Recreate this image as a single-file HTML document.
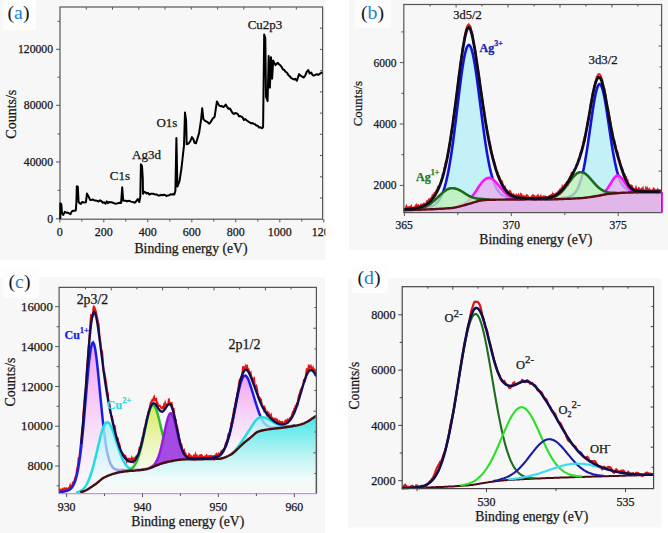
<!DOCTYPE html>
<html><head><meta charset="utf-8">
<style>
html,body{margin:0;padding:0;background:#fff;}
svg{display:block;}
text{font-family:"Liberation Serif",serif;fill:#161616;stroke:#161616;stroke-width:0.25px;}
</style></head>
<body>
<svg width="668" height="533" viewBox="0 0 668 533">
<g id="pa">
<rect x="0" y="0" width="325.5" height="260" fill="#f7f7f7"/>
<rect x="3" y="0" width="33" height="30" fill="#fdfdfd"/>
<rect x="60" y="7" width="262.6" height="212.2" fill="none" stroke="#555" stroke-width="1.2"/>
<path d="M56 49.3H60M56 105.3H60M56 162.0H60M56 218.8H60M57.5 21.3H60M57.5 77.2H60M57.5 134.0H60M57.5 190.3H60M59.8 219.2v3.2M103.8 219.2v3.2M147.8 219.2v3.2M191.8 219.2v3.2M235.8 219.2v3.2M279.8 219.2v3.2M323.8 219.2v3.2M81.8 219.2v2.4M125.8 219.2v2.4M169.8 219.2v2.4M213.8 219.2v2.4M257.8 219.2v2.4M301.8 219.2v2.4M86.3 7v2.6M322.6 28.2h-2.6M112.5 7v2.6M322.6 49.4h-2.6M138.8 7v2.6M322.6 70.7h-2.6M165.0 7v2.6M322.6 91.9h-2.6M191.3 7v2.6M322.6 113.1h-2.6M217.6 7v2.6M322.6 134.3h-2.6M243.8 7v2.6M322.6 155.5h-2.6M270.1 7v2.6M322.6 176.8h-2.6M296.3 7v2.6M322.6 198.0h-2.6" stroke="#555" stroke-width="1"/>
<g font-size="11.7" text-anchor="end"><text x="53" y="53.3">120000</text><text x="53" y="109.3">80000</text><text x="53" y="166">40000</text><text x="53" y="222.8">0</text></g>
<g font-size="12" text-anchor="middle"><text x="59.8" y="235.5">0</text><text x="103.8" y="235.5">200</text><text x="147.8" y="235.5">400</text><text x="191.8" y="235.5">600</text><text x="235.8" y="235.5">800</text><text x="279.8" y="235.5">1000</text><text x="323.8" y="235.5">1200</text></g>
<rect x="325.5" y="222" width="23.5" height="18" fill="#ffffff"/>
<text x="191" y="252.8" font-size="13.7" text-anchor="middle">Binding energy (eV)</text>
<text transform="translate(16.2,114.2) rotate(-90)" font-size="14" text-anchor="middle">Counts/s</text>
<text x="7.5" y="18.8" font-size="19.8" style="stroke-width:0">(<tspan style="fill:#1e7fd0;stroke:#1e7fd0">a</tspan>)</text>
<g font-size="13"><text x="109.8" y="179.5">C1s</text><text x="132" y="158.8">Ag3d</text><text x="156.4" y="126.8">O1s</text><text x="247.7" y="28.9">Cu2p3</text></g>
<path fill="none" stroke="#000" stroke-width="2" stroke-linejoin="round" d="M60.3 219.0 L60.3 203.4 L61.3 204.1 L62.0 213.3 L63.2 215.0 L64.8 211.9 L66.2 212.7 L67.7 212.6 L69.1 213.3 L70.5 214.1 L71.9 211.4 L73.3 210.7 L74.5 210.7 L75.8 210.5 L76.4 202.0 L76.8 186.3 L77.8 186.6 L78.6 202.0 L79.6 203.1 L80.9 204.0 L82.1 202.1 L83.4 202.2 L84.6 202.6 L85.9 202.3 L87.0 193.6 L88.5 196.4 L90.1 199.9 L91.5 199.9 L92.9 199.5 L94.4 200.4 L95.8 200.4 L97.2 200.9 L98.6 201.6 L100.0 200.3 L101.4 201.2 L102.8 202.8 L104.2 202.3 L105.4 203.7 L106.7 201.4 L107.9 203.1 L109.1 202.0 L110.3 202.2 L111.5 202.3 L112.8 202.7 L114.0 203.1 L115.4 203.8 L116.8 203.6 L118.3 203.1 L119.7 202.8 L121.1 203.1 L122.2 187.3 L123.2 200.6 L124.4 200.7 L125.7 200.7 L126.9 201.4 L128.1 200.9 L129.5 200.8 L130.9 201.6 L132.2 201.9 L133.6 202.3 L135.0 202.7 L136.4 201.0 L137.8 199.0 L139.3 202.0 L140.3 196.9 L140.9 164.3 L142.0 166.0 L142.8 178.4 L143.0 193.8 L144.0 191.8 L145.3 192.3 L146.6 193.5 L148.0 192.9 L149.3 194.5 L150.6 193.8 L151.9 193.7 L153.2 193.7 L154.5 194.2 L155.8 194.5 L157.0 194.6 L158.3 195.5 L159.6 195.5 L160.9 194.8 L162.3 195.2 L163.7 194.7 L165.1 195.0 L166.4 196.1 L167.8 195.4 L169.2 195.3 L170.5 194.2 L171.8 194.4 L173.0 194.2 L174.3 194.4 L175.4 190.7 L176.4 138.1 L177.4 186.6 L179.5 181.4 L181.5 168.0 L184.0 145.4 L185.0 112.4 L186.1 120.6 L186.7 144.3 L188.8 143.3 L190.4 141.0 L191.9 137.1 L193.3 139.1 L194.6 142.8 L196.0 143.3 L199.1 133.0 L201.1 119.6 L202.2 108.2 L203.4 119.1 L204.8 120.7 L206.2 121.4 L207.6 122.2 L209.0 123.6 L210.4 122.6 L211.8 120.1 L213.2 118.0 L214.6 116.9 L216.9 101.6 L219.2 105.6 L220.5 106.2 L221.8 106.0 L223.1 107.0 L224.4 106.3 L225.7 104.6 L227.0 106.8 L228.5 108.9 L230.0 108.5 L231.5 111.3 L232.7 113.1 L234.0 114.0 L235.2 113.1 L236.4 113.3 L237.7 113.9 L238.9 116.2 L240.2 116.1 L241.4 116.6 L242.6 117.5 L243.9 119.9 L245.1 119.1 L246.3 120.1 L247.6 121.0 L248.8 121.8 L250.1 122.7 L251.3 123.4 L252.6 122.9 L253.8 123.9 L255.1 124.3 L256.3 125.5 L257.7 125.7 L259.1 127.6 L260.6 127.2 L262.0 128.2 L263.1 127.0 L264.2 34.6 L265.3 38.0 L266.0 96.6 L267.6 101.1 L268.7 56.0 L269.9 87.6 L271.0 57.2 L272.1 78.6 L273.2 60.6 L275.5 65.1 L277.7 62.8 L279.0 64.2 L280.3 65.3 L281.6 66.9 L283.0 69.4 L284.3 70.0 L285.6 71.8 L287.0 72.8 L288.3 74.9 L289.7 76.2 L291.0 77.8 L292.4 78.6 L293.9 79.5 L295.4 78.8 L296.9 80.8 L299.1 74.1 L300.6 75.7 L302.2 76.7 L303.7 77.5 L305.2 75.7 L306.7 71.9 L308.2 70.0 L309.7 73.5 L311.2 72.6 L312.7 75.2 L314.0 75.5 L315.4 74.8 L316.7 74.2 L318.1 74.9 L319.4 74.1 L320.9 73.0 L322.5 72.3"/>
</g>
<g id="pb">
<rect x="349" y="0" width="319" height="250" fill="#f7f7f7"/>
<rect x="355" y="0" width="36" height="27.5" fill="#fdfdfd"/>
<path d="M403.8 210.2 L404.8 210.2 L405.8 210.2 L406.8 210.1 L407.8 210.1 L408.8 210.1 L409.8 210.1 L410.8 210.0 L411.8 210.0 L412.8 210.0 L413.8 209.9 L414.8 209.9 L415.8 209.9 L416.8 209.8 L417.8 209.8 L418.8 209.8 L419.8 209.7 L420.8 209.7 L421.8 209.6 L422.8 209.6 L423.8 209.6 L424.8 209.5 L425.8 209.5 L426.8 209.4 L427.8 209.4 L428.8 209.4 L429.8 209.3 L430.8 209.3 L431.8 209.2 L432.8 209.2 L433.8 209.1 L434.8 209.1 L435.8 209.0 L436.8 209.0 L437.8 208.9 L438.8 208.9 L439.8 208.8 L440.8 208.8 L441.8 208.7 L442.8 208.7 L443.8 208.6 L444.8 208.5 L445.8 208.5 L446.8 208.4 L447.8 208.3 L448.8 208.2 L449.8 208.2 L450.8 208.1 L451.8 208.0 L452.8 207.9 L453.8 207.7 L454.8 207.5 L455.8 207.4 L456.8 207.1 L457.8 206.9 L458.8 206.6 L459.8 206.4 L460.8 206.1 L461.8 205.8 L462.8 205.6 L463.8 205.3 L464.8 205.0 L465.8 204.8 L466.8 204.5 L467.8 204.2 L468.8 203.9 L469.8 203.6 L470.8 203.3 L471.8 203.0 L472.8 202.7 L473.8 202.4 L474.8 202.1 L475.8 201.7 L476.8 201.5 L477.8 201.2 L478.8 200.9 L479.8 200.7 L480.8 200.5 L481.8 200.3 L482.8 200.2 L483.8 200.1 L484.8 200.0 L485.8 200.0 L486.8 199.9 L487.8 199.9 L488.8 199.8 L489.8 199.8 L490.8 199.8 L491.8 199.7 L492.8 199.7 L493.8 199.7 L494.8 199.7 L495.8 199.7 L496.8 199.6 L497.8 199.6 L498.8 199.6 L499.8 199.6 L500.8 199.6 L501.8 199.6 L502.8 199.6 L503.8 199.6 L504.8 199.6 L505.8 199.5 L506.8 199.5 L507.8 199.5 L508.8 199.5 L509.8 199.5 L510.8 199.5 L511.8 199.5 L512.8 199.5 L513.8 199.5 L514.8 199.5 L515.8 199.5 L516.8 199.5 L517.8 199.5 L518.8 199.5 L519.8 199.5 L520.8 199.5 L521.8 199.5 L522.8 199.5 L523.8 199.5 L524.8 199.5 L525.8 199.4 L526.8 199.4 L527.8 199.4 L528.8 199.4 L529.8 199.4 L530.8 199.4 L531.8 199.4 L532.8 199.4 L533.8 199.4 L534.8 199.4 L535.8 199.4 L536.8 199.4 L537.8 199.4 L538.8 199.4 L539.8 199.4 L540.8 199.4 L541.8 199.4 L542.8 199.4 L543.8 199.4 L544.8 199.3 L545.8 199.3 L546.8 199.3 L547.8 199.3 L548.8 199.3 L549.8 199.3 L550.8 199.3 L551.8 199.3 L552.8 199.3 L553.8 199.2 L554.8 199.2 L555.8 199.2 L556.8 199.2 L557.8 199.2 L558.8 199.1 L559.8 199.1 L560.8 199.1 L561.8 199.0 L562.8 199.0 L563.8 199.0 L564.8 198.9 L565.8 198.9 L566.8 198.9 L567.8 198.8 L568.8 198.8 L569.8 198.7 L570.8 198.7 L571.8 198.6 L572.8 198.6 L573.8 198.5 L574.8 198.5 L575.8 198.4 L576.8 198.4 L577.8 198.3 L578.8 198.3 L579.8 198.2 L580.8 198.1 L581.8 198.1 L582.8 198.0 L583.8 197.9 L584.8 197.8 L585.8 197.7 L586.8 197.5 L587.8 197.4 L588.8 197.3 L589.8 197.1 L590.8 197.0 L591.8 196.8 L592.8 196.7 L593.8 196.5 L594.8 196.3 L595.8 196.2 L596.8 196.0 L597.8 195.9 L598.8 195.7 L599.8 195.5 L600.8 195.3 L601.8 195.1 L602.8 194.9 L603.8 194.7 L604.8 194.5 L605.8 194.3 L606.8 194.1 L607.8 194.0 L608.8 193.9 L609.8 193.8 L610.8 193.7 L611.8 193.6 L612.8 193.5 L613.8 193.4 L614.8 193.3 L615.8 193.3 L616.8 193.2 L617.8 193.1 L618.8 193.0 L619.8 193.0 L620.8 192.9 L621.8 192.8 L622.8 192.8 L623.8 192.7 L624.8 192.7 L625.8 192.6 L626.8 192.6 L627.8 192.6 L628.8 192.5 L629.8 192.5 L630.8 192.5 L631.8 192.5 L632.8 192.5 L633.8 192.4 L634.8 192.4 L635.8 192.4 L636.8 192.4 L637.8 192.4 L638.8 192.4 L639.8 192.3 L640.8 192.3 L641.8 192.3 L642.8 192.3 L643.8 192.3 L644.8 192.3 L645.8 192.3 L646.8 192.3 L647.8 192.3 L648.8 192.3 L649.8 192.2 L650.8 192.2 L651.8 192.2 L652.8 192.2 L653.8 192.2 L654.8 192.2 L655.8 192.2 L656.8 192.2 L657.8 192.2 L658.8 192.2 L659.8 192.2 L660.8 192.2 L660.8 212.6 L659.8 212.6 L658.8 212.6 L657.8 212.6 L656.8 212.6 L655.8 212.6 L654.8 212.6 L653.8 212.6 L652.8 212.6 L651.8 212.6 L650.8 212.6 L649.8 212.6 L648.8 212.6 L647.8 212.6 L646.8 212.6 L645.8 212.6 L644.8 212.6 L643.8 212.6 L642.8 212.6 L641.8 212.6 L640.8 212.6 L639.8 212.6 L638.8 212.6 L637.8 212.6 L636.8 212.6 L635.8 212.6 L634.8 212.6 L633.8 212.6 L632.8 212.6 L631.8 212.6 L630.8 212.6 L629.8 212.6 L628.8 212.6 L627.8 212.6 L626.8 212.6 L625.8 212.6 L624.8 212.6 L623.8 212.6 L622.8 212.6 L621.8 212.6 L620.8 212.6 L619.8 212.6 L618.8 212.6 L617.8 212.6 L616.8 212.6 L615.8 212.6 L614.8 212.6 L613.8 212.6 L612.8 212.6 L611.8 212.6 L610.8 212.6 L609.8 212.6 L608.8 212.6 L607.8 212.6 L606.8 212.6 L605.8 212.6 L604.8 212.6 L603.8 212.6 L602.8 212.6 L601.8 212.6 L600.8 212.6 L599.8 212.6 L598.8 212.6 L597.8 212.6 L596.8 212.6 L595.8 212.6 L594.8 212.6 L593.8 212.6 L592.8 212.6 L591.8 212.6 L590.8 212.6 L589.8 212.6 L588.8 212.6 L587.8 212.6 L586.8 212.6 L585.8 212.6 L584.8 212.6 L583.8 212.6 L582.8 212.6 L581.8 212.6 L580.8 212.6 L579.8 212.6 L578.8 212.6 L577.8 212.6 L576.8 212.6 L575.8 212.6 L574.8 212.6 L573.8 212.6 L572.8 212.6 L571.8 212.6 L570.8 212.6 L569.8 212.6 L568.8 212.6 L567.8 212.6 L566.8 212.6 L565.8 212.6 L564.8 212.6 L563.8 212.6 L562.8 212.6 L561.8 212.6 L560.8 212.6 L559.8 212.6 L558.8 212.6 L557.8 212.6 L556.8 212.6 L555.8 212.6 L554.8 212.6 L553.8 212.6 L552.8 212.6 L551.8 212.6 L550.8 212.6 L549.8 212.6 L548.8 212.6 L547.8 212.6 L546.8 212.6 L545.8 212.6 L544.8 212.6 L543.8 212.6 L542.8 212.6 L541.8 212.6 L540.8 212.6 L539.8 212.6 L538.8 212.6 L537.8 212.6 L536.8 212.6 L535.8 212.6 L534.8 212.6 L533.8 212.6 L532.8 212.6 L531.8 212.6 L530.8 212.6 L529.8 212.6 L528.8 212.6 L527.8 212.6 L526.8 212.6 L525.8 212.6 L524.8 212.6 L523.8 212.6 L522.8 212.6 L521.8 212.6 L520.8 212.6 L519.8 212.6 L518.8 212.6 L517.8 212.6 L516.8 212.6 L515.8 212.6 L514.8 212.6 L513.8 212.6 L512.8 212.6 L511.8 212.6 L510.8 212.6 L509.8 212.6 L508.8 212.6 L507.8 212.6 L506.8 212.6 L505.8 212.6 L504.8 212.6 L503.8 212.6 L502.8 212.6 L501.8 212.6 L500.8 212.6 L499.8 212.6 L498.8 212.6 L497.8 212.6 L496.8 212.6 L495.8 212.6 L494.8 212.6 L493.8 212.6 L492.8 212.6 L491.8 212.6 L490.8 212.6 L489.8 212.6 L488.8 212.6 L487.8 212.6 L486.8 212.6 L485.8 212.6 L484.8 212.6 L483.8 212.6 L482.8 212.6 L481.8 212.6 L480.8 212.6 L479.8 212.6 L478.8 212.6 L477.8 212.6 L476.8 212.6 L475.8 212.6 L474.8 212.6 L473.8 212.6 L472.8 212.6 L471.8 212.6 L470.8 212.6 L469.8 212.6 L468.8 212.6 L467.8 212.6 L466.8 212.6 L465.8 212.6 L464.8 212.6 L463.8 212.6 L462.8 212.6 L461.8 212.6 L460.8 212.6 L459.8 212.6 L458.8 212.6 L457.8 212.6 L456.8 212.6 L455.8 212.6 L454.8 212.6 L453.8 212.6 L452.8 212.6 L451.8 212.6 L450.8 212.6 L449.8 212.6 L448.8 212.6 L447.8 212.6 L446.8 212.6 L445.8 212.6 L444.8 212.6 L443.8 212.6 L442.8 212.6 L441.8 212.6 L440.8 212.6 L439.8 212.6 L438.8 212.6 L437.8 212.6 L436.8 212.6 L435.8 212.6 L434.8 212.6 L433.8 212.6 L432.8 212.6 L431.8 212.6 L430.8 212.6 L429.8 212.6 L428.8 212.6 L427.8 212.6 L426.8 212.6 L425.8 212.6 L424.8 212.6 L423.8 212.6 L422.8 212.6 L421.8 212.6 L420.8 212.6 L419.8 212.6 L418.8 212.6 L417.8 212.6 L416.8 212.6 L415.8 212.6 L414.8 212.6 L413.8 212.6 L412.8 212.6 L411.8 212.6 L410.8 212.6 L409.8 212.6 L408.8 212.6 L407.8 212.6 L406.8 212.6 L405.8 212.6 L404.8 212.6 L403.8 212.6 Z" fill="#e3b6ea"/>
<path d="M403.8 209.5 L404.8 209.5 L405.8 209.4 L406.8 209.4 L407.8 209.3 L408.8 209.3 L409.8 209.2 L410.8 209.2 L411.8 209.1 L412.8 209.1 L413.8 209.0 L414.8 208.9 L415.8 208.9 L416.8 208.8 L417.8 208.7 L418.8 208.6 L419.8 208.5 L420.8 208.4 L421.8 208.3 L422.8 208.2 L423.8 208.1 L424.8 208.0 L425.8 207.8 L426.8 207.7 L427.8 207.5 L428.8 207.2 L429.8 207.0 L430.8 206.6 L431.8 206.3 L432.8 205.8 L433.8 205.3 L434.8 204.7 L435.8 203.9 L436.8 203.0 L437.8 201.9 L438.8 200.6 L439.8 199.1 L440.8 197.2 L441.8 195.1 L442.8 192.7 L443.8 189.9 L444.8 186.6 L445.8 183.0 L446.8 178.8 L447.8 174.2 L448.8 169.1 L449.8 163.4 L450.8 157.3 L451.8 150.7 L452.8 143.7 L453.8 136.2 L454.8 128.4 L455.8 120.4 L456.8 112.1 L457.8 103.8 L458.8 95.5 L459.8 87.4 L460.8 79.6 L461.8 72.3 L462.8 65.6 L463.8 59.6 L464.8 54.6 L465.8 50.5 L466.8 47.5 L467.8 45.6 L468.8 45.0 L469.8 45.5 L470.8 47.2 L471.8 50.1 L472.8 54.0 L473.8 58.9 L474.8 64.5 L475.8 70.9 L476.8 77.9 L477.8 85.3 L478.8 93.0 L479.8 100.8 L480.8 108.7 L481.8 116.5 L482.8 124.2 L483.8 131.6 L484.8 138.7 L485.8 145.4 L486.8 151.7 L487.8 157.4 L488.8 162.7 L489.8 167.6 L490.8 171.9 L491.8 175.7 L492.8 179.1 L493.8 182.1 L494.8 184.7 L495.8 186.9 L496.8 188.8 L497.8 190.5 L498.8 191.8 L499.8 193.0 L500.8 193.9 L501.8 194.7 L502.8 195.4 L503.8 195.9 L504.8 196.4 L505.8 196.7 L506.8 197.0 L507.8 197.3 L508.8 197.5 L509.8 197.6 L510.8 197.8 L511.8 197.9 L512.8 198.0 L513.8 198.1 L514.8 198.1 L515.8 198.2 L516.8 198.3 L517.8 198.3 L518.8 198.3 L519.8 198.4 L520.8 198.4 L521.8 198.5 L522.8 198.5 L523.8 198.5 L524.8 198.6 L525.8 198.6 L526.8 198.6 L527.8 198.6 L528.8 198.6 L529.8 198.7 L530.8 198.7 L531.8 198.7 L532.8 198.7 L533.8 198.7 L534.8 198.8 L535.8 198.8 L536.8 198.8 L537.8 198.8 L538.8 198.8 L539.8 198.8 L540.8 198.8 L541.8 198.8 L542.8 198.8 L543.8 198.8 L544.8 198.8 L545.8 198.9 L546.8 198.9 L547.8 198.9 L548.8 198.9 L549.8 198.9 L550.8 198.9 L551.8 198.9 L552.8 198.8 L553.8 198.8 L554.8 198.8 L555.8 198.8 L556.8 198.8 L557.8 198.8 L558.8 198.8 L559.8 198.8 L560.8 198.7 L561.8 198.7 L562.8 198.7 L563.8 198.7 L564.8 198.6 L565.8 198.6 L566.8 198.6 L567.8 198.5 L567.8 198.8 L566.8 198.9 L565.8 198.9 L564.8 198.9 L563.8 199.0 L562.8 199.0 L561.8 199.0 L560.8 199.1 L559.8 199.1 L558.8 199.1 L557.8 199.2 L556.8 199.2 L555.8 199.2 L554.8 199.2 L553.8 199.2 L552.8 199.3 L551.8 199.3 L550.8 199.3 L549.8 199.3 L548.8 199.3 L547.8 199.3 L546.8 199.3 L545.8 199.3 L544.8 199.3 L543.8 199.4 L542.8 199.4 L541.8 199.4 L540.8 199.4 L539.8 199.4 L538.8 199.4 L537.8 199.4 L536.8 199.4 L535.8 199.4 L534.8 199.4 L533.8 199.4 L532.8 199.4 L531.8 199.4 L530.8 199.4 L529.8 199.4 L528.8 199.4 L527.8 199.4 L526.8 199.4 L525.8 199.4 L524.8 199.5 L523.8 199.5 L522.8 199.5 L521.8 199.5 L520.8 199.5 L519.8 199.5 L518.8 199.5 L517.8 199.5 L516.8 199.5 L515.8 199.5 L514.8 199.5 L513.8 199.5 L512.8 199.5 L511.8 199.5 L510.8 199.5 L509.8 199.5 L508.8 199.5 L507.8 199.5 L506.8 199.5 L505.8 199.5 L504.8 199.6 L503.8 199.6 L502.8 199.6 L501.8 199.6 L500.8 199.6 L499.8 199.6 L498.8 199.6 L497.8 199.6 L496.8 199.6 L495.8 199.7 L494.8 199.7 L493.8 199.7 L492.8 199.7 L491.8 199.7 L490.8 199.8 L489.8 199.8 L488.8 199.8 L487.8 199.9 L486.8 199.9 L485.8 200.0 L484.8 200.0 L483.8 200.1 L482.8 200.2 L481.8 200.3 L480.8 200.5 L479.8 200.7 L478.8 200.9 L477.8 201.2 L476.8 201.5 L475.8 201.7 L474.8 202.1 L473.8 202.4 L472.8 202.7 L471.8 203.0 L470.8 203.3 L469.8 203.6 L468.8 203.9 L467.8 204.2 L466.8 204.5 L465.8 204.8 L464.8 205.0 L463.8 205.3 L462.8 205.6 L461.8 205.8 L460.8 206.1 L459.8 206.4 L458.8 206.6 L457.8 206.9 L456.8 207.1 L455.8 207.4 L454.8 207.5 L453.8 207.7 L452.8 207.9 L451.8 208.0 L450.8 208.1 L449.8 208.2 L448.8 208.2 L447.8 208.3 L446.8 208.4 L445.8 208.5 L444.8 208.5 L443.8 208.6 L442.8 208.7 L441.8 208.7 L440.8 208.8 L439.8 208.8 L438.8 208.9 L437.8 208.9 L436.8 209.0 L435.8 209.0 L434.8 209.1 L433.8 209.1 L432.8 209.2 L431.8 209.2 L430.8 209.3 L429.8 209.3 L428.8 209.4 L427.8 209.4 L426.8 209.4 L425.8 209.5 L424.8 209.5 L423.8 209.6 L422.8 209.6 L421.8 209.6 L420.8 209.7 L419.8 209.7 L418.8 209.8 L417.8 209.8 L416.8 209.8 L415.8 209.9 L414.8 209.9 L413.8 209.9 L412.8 210.0 L411.8 210.0 L410.8 210.0 L409.8 210.1 L408.8 210.1 L407.8 210.1 L406.8 210.1 L405.8 210.2 L404.8 210.2 L403.8 210.2 Z" fill="#b4f0f8" fill-opacity="0.8"/>
<path d="M403.8 209.5 L404.8 209.5 L405.8 209.4 L406.8 209.4 L407.8 209.3 L408.8 209.3 L409.8 209.2 L410.8 209.2 L411.8 209.1 L412.8 209.1 L413.8 209.0 L414.8 208.9 L415.8 208.9 L416.8 208.8 L417.8 208.7 L418.8 208.6 L419.8 208.5 L420.8 208.4 L421.8 208.3 L422.8 208.2 L423.8 208.1 L424.8 208.0 L425.8 207.8 L426.8 207.7 L427.8 207.5 L428.8 207.2 L429.8 207.0 L430.8 206.6 L431.8 206.3 L432.8 205.8 L433.8 205.3 L434.8 204.7 L435.8 203.9 L436.8 203.0 L437.8 201.9 L438.8 200.6 L439.8 199.1 L440.8 197.2 L441.8 195.1 L442.8 192.7 L443.8 189.9 L444.8 186.6 L445.8 183.0 L446.8 178.8 L447.8 174.2 L448.8 169.1 L449.8 163.4 L450.8 157.3 L451.8 150.7 L452.8 143.7 L453.8 136.2 L454.8 128.4 L455.8 120.4 L456.8 112.1 L457.8 103.8 L458.8 95.5 L459.8 87.4 L460.8 79.6 L461.8 72.3 L462.8 65.6 L463.8 59.6 L464.8 54.6 L465.8 50.5 L466.8 47.5 L467.8 45.6 L468.8 45.0 L469.8 45.5 L470.8 47.2 L471.8 50.1 L472.8 54.0 L473.8 58.9 L474.8 64.5 L475.8 70.9 L476.8 77.9 L477.8 85.3 L478.8 93.0 L479.8 100.8 L480.8 108.7 L481.8 116.5 L482.8 124.2 L483.8 131.6 L484.8 138.7 L485.8 145.4 L486.8 151.7 L487.8 157.4 L488.8 162.7 L489.8 167.6 L490.8 171.9 L491.8 175.7 L492.8 179.1 L493.8 182.1 L494.8 184.7 L495.8 186.9 L496.8 188.8 L497.8 190.5 L498.8 191.8 L499.8 193.0 L500.8 193.9 L501.8 194.7 L502.8 195.4 L503.8 195.9 L504.8 196.4 L505.8 196.7 L506.8 197.0 L507.8 197.3 L508.8 197.5 L509.8 197.6 L510.8 197.8 L511.8 197.9 L512.8 198.0 L513.8 198.1 L514.8 198.1 L515.8 198.2 L516.8 198.3 L517.8 198.3 L518.8 198.3 L519.8 198.4 L520.8 198.4 L521.8 198.5 L522.8 198.5 L523.8 198.5 L524.8 198.6 L525.8 198.6 L526.8 198.6 L527.8 198.6 L528.8 198.6 L529.8 198.7 L530.8 198.7 L531.8 198.7 L532.8 198.7 L533.8 198.7 L534.8 198.8 L535.8 198.8 L536.8 198.8 L537.8 198.8 L538.8 198.8 L539.8 198.8 L540.8 198.8 L541.8 198.8 L542.8 198.8 L543.8 198.8 L544.8 198.8 L545.8 198.9 L546.8 198.9 L547.8 198.9 L548.8 198.9 L549.8 198.9 L550.8 198.9 L551.8 198.9 L552.8 198.8 L553.8 198.8 L554.8 198.8 L555.8 198.8 L556.8 198.8 L557.8 198.8 L558.8 198.8 L559.8 198.8 L560.8 198.7 L561.8 198.7 L562.8 198.7 L563.8 198.7 L564.8 198.6 L565.8 198.6 L566.8 198.6 L567.8 198.5" fill="none" stroke="#1212d8" stroke-width="2.6"/>
<path d="M531.8 199.1 L532.8 199.1 L533.8 199.1 L534.8 199.1 L535.8 199.1 L536.8 199.1 L537.8 199.0 L538.8 199.0 L539.8 199.0 L540.8 199.0 L541.8 199.0 L542.8 198.9 L543.8 198.9 L544.8 198.9 L545.8 198.9 L546.8 198.8 L547.8 198.8 L548.8 198.8 L549.8 198.8 L550.8 198.7 L551.8 198.7 L552.8 198.6 L553.8 198.6 L554.8 198.6 L555.8 198.5 L556.8 198.5 L557.8 198.4 L558.8 198.3 L559.8 198.3 L560.8 198.2 L561.8 198.1 L562.8 198.0 L563.8 197.9 L564.8 197.7 L565.8 197.6 L566.8 197.4 L567.8 197.2 L568.8 196.9 L569.8 196.5 L570.8 196.1 L571.8 195.6 L572.8 194.9 L573.8 194.1 L574.8 193.0 L575.8 191.8 L576.8 190.2 L577.8 188.4 L578.8 186.1 L579.8 183.5 L580.8 180.4 L581.8 176.8 L582.8 172.7 L583.8 168.1 L584.8 162.9 L585.8 157.3 L586.8 151.1 L587.8 144.6 L588.8 137.8 L589.8 130.8 L590.8 123.7 L591.8 116.7 L592.8 109.9 L593.8 103.6 L594.8 97.9 L595.8 93.0 L596.8 89.1 L597.8 86.2 L598.8 84.5 L599.8 84.1 L600.8 84.9 L601.8 86.9 L602.8 90.1 L603.8 94.3 L604.8 99.3 L605.8 105.1 L606.8 111.4 L607.8 118.0 L608.8 124.8 L609.8 131.6 L610.8 138.3 L611.8 144.7 L612.8 150.8 L613.8 156.4 L614.8 161.6 L615.8 166.2 L616.8 170.4 L617.8 174.0 L618.8 177.1 L619.8 179.8 L620.8 182.1 L621.8 184.0 L622.8 185.5 L623.8 186.8 L624.8 187.8 L625.8 188.6 L626.8 189.3 L627.8 189.8 L628.8 190.2 L629.8 190.5 L630.8 190.7 L631.8 190.9 L632.8 191.1 L633.8 191.2 L634.8 191.3 L635.8 191.4 L636.8 191.4 L637.8 191.5 L638.8 191.5 L639.8 191.5 L640.8 191.6 L641.8 191.6 L642.8 191.6 L643.8 191.6 L644.8 191.6 L645.8 191.7 L646.8 191.7 L647.8 191.7 L648.8 191.7 L649.8 191.7 L650.8 191.7 L651.8 191.7 L652.8 191.8 L653.8 191.8 L654.8 191.8 L655.8 191.8 L656.8 191.8 L657.8 191.8 L658.8 191.8 L659.8 191.8 L660.8 191.8 L660.8 192.2 L659.8 192.2 L658.8 192.2 L657.8 192.2 L656.8 192.2 L655.8 192.2 L654.8 192.2 L653.8 192.2 L652.8 192.2 L651.8 192.2 L650.8 192.2 L649.8 192.2 L648.8 192.3 L647.8 192.3 L646.8 192.3 L645.8 192.3 L644.8 192.3 L643.8 192.3 L642.8 192.3 L641.8 192.3 L640.8 192.3 L639.8 192.3 L638.8 192.4 L637.8 192.4 L636.8 192.4 L635.8 192.4 L634.8 192.4 L633.8 192.4 L632.8 192.5 L631.8 192.5 L630.8 192.5 L629.8 192.5 L628.8 192.5 L627.8 192.6 L626.8 192.6 L625.8 192.6 L624.8 192.7 L623.8 192.7 L622.8 192.8 L621.8 192.8 L620.8 192.9 L619.8 193.0 L618.8 193.0 L617.8 193.1 L616.8 193.2 L615.8 193.3 L614.8 193.3 L613.8 193.4 L612.8 193.5 L611.8 193.6 L610.8 193.7 L609.8 193.8 L608.8 193.9 L607.8 194.0 L606.8 194.1 L605.8 194.3 L604.8 194.5 L603.8 194.7 L602.8 194.9 L601.8 195.1 L600.8 195.3 L599.8 195.5 L598.8 195.7 L597.8 195.9 L596.8 196.0 L595.8 196.2 L594.8 196.3 L593.8 196.5 L592.8 196.7 L591.8 196.8 L590.8 197.0 L589.8 197.1 L588.8 197.3 L587.8 197.4 L586.8 197.5 L585.8 197.7 L584.8 197.8 L583.8 197.9 L582.8 198.0 L581.8 198.1 L580.8 198.1 L579.8 198.2 L578.8 198.3 L577.8 198.3 L576.8 198.4 L575.8 198.4 L574.8 198.5 L573.8 198.5 L572.8 198.6 L571.8 198.6 L570.8 198.7 L569.8 198.7 L568.8 198.8 L567.8 198.8 L566.8 198.9 L565.8 198.9 L564.8 198.9 L563.8 199.0 L562.8 199.0 L561.8 199.0 L560.8 199.1 L559.8 199.1 L558.8 199.1 L557.8 199.2 L556.8 199.2 L555.8 199.2 L554.8 199.2 L553.8 199.2 L552.8 199.3 L551.8 199.3 L550.8 199.3 L549.8 199.3 L548.8 199.3 L547.8 199.3 L546.8 199.3 L545.8 199.3 L544.8 199.3 L543.8 199.4 L542.8 199.4 L541.8 199.4 L540.8 199.4 L539.8 199.4 L538.8 199.4 L537.8 199.4 L536.8 199.4 L535.8 199.4 L534.8 199.4 L533.8 199.4 L532.8 199.4 L531.8 199.4 Z" fill="#b4f0f8" fill-opacity="0.8"/>
<path d="M531.8 199.1 L532.8 199.1 L533.8 199.1 L534.8 199.1 L535.8 199.1 L536.8 199.1 L537.8 199.0 L538.8 199.0 L539.8 199.0 L540.8 199.0 L541.8 199.0 L542.8 198.9 L543.8 198.9 L544.8 198.9 L545.8 198.9 L546.8 198.8 L547.8 198.8 L548.8 198.8 L549.8 198.8 L550.8 198.7 L551.8 198.7 L552.8 198.6 L553.8 198.6 L554.8 198.6 L555.8 198.5 L556.8 198.5 L557.8 198.4 L558.8 198.3 L559.8 198.3 L560.8 198.2 L561.8 198.1 L562.8 198.0 L563.8 197.9 L564.8 197.7 L565.8 197.6 L566.8 197.4 L567.8 197.2 L568.8 196.9 L569.8 196.5 L570.8 196.1 L571.8 195.6 L572.8 194.9 L573.8 194.1 L574.8 193.0 L575.8 191.8 L576.8 190.2 L577.8 188.4 L578.8 186.1 L579.8 183.5 L580.8 180.4 L581.8 176.8 L582.8 172.7 L583.8 168.1 L584.8 162.9 L585.8 157.3 L586.8 151.1 L587.8 144.6 L588.8 137.8 L589.8 130.8 L590.8 123.7 L591.8 116.7 L592.8 109.9 L593.8 103.6 L594.8 97.9 L595.8 93.0 L596.8 89.1 L597.8 86.2 L598.8 84.5 L599.8 84.1 L600.8 84.9 L601.8 86.9 L602.8 90.1 L603.8 94.3 L604.8 99.3 L605.8 105.1 L606.8 111.4 L607.8 118.0 L608.8 124.8 L609.8 131.6 L610.8 138.3 L611.8 144.7 L612.8 150.8 L613.8 156.4 L614.8 161.6 L615.8 166.2 L616.8 170.4 L617.8 174.0 L618.8 177.1 L619.8 179.8 L620.8 182.1 L621.8 184.0 L622.8 185.5 L623.8 186.8 L624.8 187.8 L625.8 188.6 L626.8 189.3 L627.8 189.8 L628.8 190.2 L629.8 190.5 L630.8 190.7 L631.8 190.9 L632.8 191.1 L633.8 191.2 L634.8 191.3 L635.8 191.4 L636.8 191.4 L637.8 191.5 L638.8 191.5 L639.8 191.5 L640.8 191.6 L641.8 191.6 L642.8 191.6 L643.8 191.6 L644.8 191.6 L645.8 191.7 L646.8 191.7 L647.8 191.7 L648.8 191.7 L649.8 191.7 L650.8 191.7 L651.8 191.7 L652.8 191.8 L653.8 191.8 L654.8 191.8 L655.8 191.8 L656.8 191.8 L657.8 191.8 L658.8 191.8 L659.8 191.8 L660.8 191.8" fill="none" stroke="#1212d8" stroke-width="2.6"/>
<path d="M456.8 206.9 L457.8 206.6 L458.8 206.2 L459.8 205.8 L460.8 205.4 L461.8 205.0 L462.8 204.5 L463.8 203.9 L464.8 203.3 L465.8 202.7 L466.8 202.0 L467.8 201.1 L468.8 200.2 L469.8 199.2 L470.8 198.1 L471.8 196.9 L472.8 195.6 L473.8 194.3 L474.8 192.8 L475.8 191.4 L476.8 189.8 L477.8 188.3 L478.8 186.8 L479.8 185.3 L480.8 183.9 L481.8 182.6 L482.8 181.4 L483.8 180.4 L484.8 179.5 L485.8 178.8 L486.8 178.3 L487.8 178.0 L488.8 177.8 L489.8 177.9 L490.8 178.2 L491.8 178.6 L492.8 179.2 L493.8 180.0 L494.8 180.9 L495.8 182.0 L496.8 183.1 L497.8 184.3 L498.8 185.5 L499.8 186.7 L500.8 188.0 L501.8 189.2 L502.8 190.3 L503.8 191.5 L504.8 192.5 L505.8 193.4 L506.8 194.3 L507.8 195.1 L508.8 195.8 L509.8 196.4 L510.8 196.9 L511.8 197.4 L512.8 197.8 L513.8 198.1 L514.8 198.4 L515.8 198.6 L516.8 198.8 L517.8 198.9 L518.8 199.1 L519.8 199.2 L520.8 199.2 L520.8 199.5 L519.8 199.5 L518.8 199.5 L517.8 199.5 L516.8 199.5 L515.8 199.5 L514.8 199.5 L513.8 199.5 L512.8 199.5 L511.8 199.5 L510.8 199.5 L509.8 199.5 L508.8 199.5 L507.8 199.5 L506.8 199.5 L505.8 199.5 L504.8 199.6 L503.8 199.6 L502.8 199.6 L501.8 199.6 L500.8 199.6 L499.8 199.6 L498.8 199.6 L497.8 199.6 L496.8 199.6 L495.8 199.7 L494.8 199.7 L493.8 199.7 L492.8 199.7 L491.8 199.7 L490.8 199.8 L489.8 199.8 L488.8 199.8 L487.8 199.9 L486.8 199.9 L485.8 200.0 L484.8 200.0 L483.8 200.1 L482.8 200.2 L481.8 200.3 L480.8 200.5 L479.8 200.7 L478.8 200.9 L477.8 201.2 L476.8 201.5 L475.8 201.7 L474.8 202.1 L473.8 202.4 L472.8 202.7 L471.8 203.0 L470.8 203.3 L469.8 203.6 L468.8 203.9 L467.8 204.2 L466.8 204.5 L465.8 204.8 L464.8 205.0 L463.8 205.3 L462.8 205.6 L461.8 205.8 L460.8 206.1 L459.8 206.4 L458.8 206.6 L457.8 206.9 L456.8 207.1 Z" fill="#e8b0f0" fill-opacity="0.8"/>
<path d="M456.8 206.9 L457.8 206.6 L458.8 206.2 L459.8 205.8 L460.8 205.4 L461.8 205.0 L462.8 204.5 L463.8 203.9 L464.8 203.3 L465.8 202.7 L466.8 202.0 L467.8 201.1 L468.8 200.2 L469.8 199.2 L470.8 198.1 L471.8 196.9 L472.8 195.6 L473.8 194.3 L474.8 192.8 L475.8 191.4 L476.8 189.8 L477.8 188.3 L478.8 186.8 L479.8 185.3 L480.8 183.9 L481.8 182.6 L482.8 181.4 L483.8 180.4 L484.8 179.5 L485.8 178.8 L486.8 178.3 L487.8 178.0 L488.8 177.8 L489.8 177.9 L490.8 178.2 L491.8 178.6 L492.8 179.2 L493.8 180.0 L494.8 180.9 L495.8 182.0 L496.8 183.1 L497.8 184.3 L498.8 185.5 L499.8 186.7 L500.8 188.0 L501.8 189.2 L502.8 190.3 L503.8 191.5 L504.8 192.5 L505.8 193.4 L506.8 194.3 L507.8 195.1 L508.8 195.8 L509.8 196.4 L510.8 196.9 L511.8 197.4 L512.8 197.8 L513.8 198.1 L514.8 198.4 L515.8 198.6 L516.8 198.8 L517.8 198.9 L518.8 199.1 L519.8 199.2 L520.8 199.2" fill="none" stroke="#ff10ff" stroke-width="2.6"/>
<path d="M597.8 195.6 L598.8 195.3 L599.8 195.0 L600.8 194.5 L601.8 193.9 L602.8 193.3 L603.8 192.5 L604.8 191.6 L605.8 190.5 L606.8 189.3 L607.8 188.0 L608.8 186.5 L609.8 184.9 L610.8 183.3 L611.8 181.6 L612.8 180.0 L613.8 178.6 L614.8 177.4 L615.8 176.4 L616.8 175.8 L617.8 175.6 L618.8 175.8 L619.8 176.3 L620.8 177.1 L621.8 178.2 L622.8 179.6 L623.8 181.0 L624.8 182.5 L625.8 184.0 L626.8 185.4 L627.8 186.8 L628.8 187.9 L629.8 188.9 L630.8 189.8 L631.8 190.4 L632.8 191.0 L633.8 191.4 L634.8 191.7 L635.8 191.9 L636.8 192.1 L637.8 192.2 L637.8 192.4 L636.8 192.4 L635.8 192.4 L634.8 192.4 L633.8 192.4 L632.8 192.5 L631.8 192.5 L630.8 192.5 L629.8 192.5 L628.8 192.5 L627.8 192.6 L626.8 192.6 L625.8 192.6 L624.8 192.7 L623.8 192.7 L622.8 192.8 L621.8 192.8 L620.8 192.9 L619.8 193.0 L618.8 193.0 L617.8 193.1 L616.8 193.2 L615.8 193.3 L614.8 193.3 L613.8 193.4 L612.8 193.5 L611.8 193.6 L610.8 193.7 L609.8 193.8 L608.8 193.9 L607.8 194.0 L606.8 194.1 L605.8 194.3 L604.8 194.5 L603.8 194.7 L602.8 194.9 L601.8 195.1 L600.8 195.3 L599.8 195.5 L598.8 195.7 L597.8 195.9 Z" fill="#e8b0f0" fill-opacity="0.8"/>
<path d="M597.8 195.6 L598.8 195.3 L599.8 195.0 L600.8 194.5 L601.8 193.9 L602.8 193.3 L603.8 192.5 L604.8 191.6 L605.8 190.5 L606.8 189.3 L607.8 188.0 L608.8 186.5 L609.8 184.9 L610.8 183.3 L611.8 181.6 L612.8 180.0 L613.8 178.6 L614.8 177.4 L615.8 176.4 L616.8 175.8 L617.8 175.6 L618.8 175.8 L619.8 176.3 L620.8 177.1 L621.8 178.2 L622.8 179.6 L623.8 181.0 L624.8 182.5 L625.8 184.0 L626.8 185.4 L627.8 186.8 L628.8 187.9 L629.8 188.9 L630.8 189.8 L631.8 190.4 L632.8 191.0 L633.8 191.4 L634.8 191.7 L635.8 191.9 L636.8 192.1 L637.8 192.2" fill="none" stroke="#ff10ff" stroke-width="2.6"/>
<path d="M412.8 209.7 L413.8 209.6 L414.8 209.5 L415.8 209.4 L416.8 209.2 L417.8 209.0 L418.8 208.8 L419.8 208.6 L420.8 208.3 L421.8 208.0 L422.8 207.7 L423.8 207.3 L424.8 206.9 L425.8 206.5 L426.8 205.9 L427.8 205.4 L428.8 204.8 L429.8 204.1 L430.8 203.4 L431.8 202.6 L432.8 201.8 L433.8 200.9 L434.8 200.1 L435.8 199.1 L436.8 198.2 L437.8 197.2 L438.8 196.3 L439.8 195.3 L440.8 194.4 L441.8 193.5 L442.8 192.6 L443.8 191.8 L444.8 191.0 L445.8 190.3 L446.8 189.7 L447.8 189.2 L448.8 188.8 L449.8 188.5 L450.8 188.3 L451.8 188.2 L452.8 188.2 L453.8 188.3 L454.8 188.4 L455.8 188.7 L456.8 189.0 L457.8 189.4 L458.8 189.8 L459.8 190.3 L460.8 190.8 L461.8 191.4 L462.8 192.0 L463.8 192.7 L464.8 193.3 L465.8 194.0 L466.8 194.6 L467.8 195.2 L468.8 195.8 L469.8 196.3 L470.8 196.7 L471.8 197.1 L472.8 197.5 L473.8 197.8 L474.8 198.0 L475.8 198.2 L476.8 198.4 L477.8 198.6 L478.8 198.7 L479.8 198.8 L480.8 198.9 L481.8 199.0 L482.8 199.0 L483.8 199.1 L484.8 199.2 L485.8 199.3 L486.8 199.4 L487.8 199.5 L488.8 199.5 L489.8 199.5 L489.8 199.8 L488.8 199.8 L487.8 199.9 L486.8 199.9 L485.8 200.0 L484.8 200.0 L483.8 200.1 L482.8 200.2 L481.8 200.3 L480.8 200.5 L479.8 200.7 L478.8 200.9 L477.8 201.2 L476.8 201.5 L475.8 201.7 L474.8 202.1 L473.8 202.4 L472.8 202.7 L471.8 203.0 L470.8 203.3 L469.8 203.6 L468.8 203.9 L467.8 204.2 L466.8 204.5 L465.8 204.8 L464.8 205.0 L463.8 205.3 L462.8 205.6 L461.8 205.8 L460.8 206.1 L459.8 206.4 L458.8 206.6 L457.8 206.9 L456.8 207.1 L455.8 207.4 L454.8 207.5 L453.8 207.7 L452.8 207.9 L451.8 208.0 L450.8 208.1 L449.8 208.2 L448.8 208.2 L447.8 208.3 L446.8 208.4 L445.8 208.5 L444.8 208.5 L443.8 208.6 L442.8 208.7 L441.8 208.7 L440.8 208.8 L439.8 208.8 L438.8 208.9 L437.8 208.9 L436.8 209.0 L435.8 209.0 L434.8 209.1 L433.8 209.1 L432.8 209.2 L431.8 209.2 L430.8 209.3 L429.8 209.3 L428.8 209.4 L427.8 209.4 L426.8 209.4 L425.8 209.5 L424.8 209.5 L423.8 209.6 L422.8 209.6 L421.8 209.6 L420.8 209.7 L419.8 209.7 L418.8 209.8 L417.8 209.8 L416.8 209.8 L415.8 209.9 L414.8 209.9 L413.8 209.9 L412.8 210.0 Z" fill="#bff0b8" fill-opacity="0.8"/>
<path d="M412.8 209.7 L413.8 209.6 L414.8 209.5 L415.8 209.4 L416.8 209.2 L417.8 209.0 L418.8 208.8 L419.8 208.6 L420.8 208.3 L421.8 208.0 L422.8 207.7 L423.8 207.3 L424.8 206.9 L425.8 206.5 L426.8 205.9 L427.8 205.4 L428.8 204.8 L429.8 204.1 L430.8 203.4 L431.8 202.6 L432.8 201.8 L433.8 200.9 L434.8 200.1 L435.8 199.1 L436.8 198.2 L437.8 197.2 L438.8 196.3 L439.8 195.3 L440.8 194.4 L441.8 193.5 L442.8 192.6 L443.8 191.8 L444.8 191.0 L445.8 190.3 L446.8 189.7 L447.8 189.2 L448.8 188.8 L449.8 188.5 L450.8 188.3 L451.8 188.2 L452.8 188.2 L453.8 188.3 L454.8 188.4 L455.8 188.7 L456.8 189.0 L457.8 189.4 L458.8 189.8 L459.8 190.3 L460.8 190.8 L461.8 191.4 L462.8 192.0 L463.8 192.7 L464.8 193.3 L465.8 194.0 L466.8 194.6 L467.8 195.2 L468.8 195.8 L469.8 196.3 L470.8 196.7 L471.8 197.1 L472.8 197.5 L473.8 197.8 L474.8 198.0 L475.8 198.2 L476.8 198.4 L477.8 198.6 L478.8 198.7 L479.8 198.8 L480.8 198.9 L481.8 199.0 L482.8 199.0 L483.8 199.1 L484.8 199.2 L485.8 199.3 L486.8 199.4 L487.8 199.5 L488.8 199.5 L489.8 199.5" fill="none" stroke="#1a6a1a" stroke-width="2.6"/>
<path d="M544.8 199.1 L545.8 199.0 L546.8 198.9 L547.8 198.7 L548.8 198.6 L549.8 198.4 L550.8 198.1 L551.8 197.9 L552.8 197.5 L553.8 197.2 L554.8 196.7 L555.8 196.2 L556.8 195.6 L557.8 195.0 L558.8 194.2 L559.8 193.4 L560.8 192.5 L561.8 191.5 L562.8 190.4 L563.8 189.3 L564.8 188.1 L565.8 186.8 L566.8 185.5 L567.8 184.1 L568.8 182.8 L569.8 181.4 L570.8 180.1 L571.8 178.8 L572.8 177.5 L573.8 176.4 L574.8 175.3 L575.8 174.4 L576.8 173.6 L577.8 173.0 L578.8 172.5 L579.8 172.3 L580.8 172.2 L581.8 172.2 L582.8 172.5 L583.8 172.9 L584.8 173.4 L585.8 174.1 L586.8 174.9 L587.8 175.9 L588.8 176.9 L589.8 178.0 L590.8 179.1 L591.8 180.3 L592.8 181.4 L593.8 182.6 L594.8 183.7 L595.8 184.8 L596.8 185.9 L597.8 186.8 L598.8 187.7 L599.8 188.5 L600.8 189.2 L601.8 189.9 L602.8 190.4 L603.8 190.9 L604.8 191.3 L605.8 191.6 L606.8 191.9 L607.8 192.2 L608.8 192.4 L609.8 192.6 L610.8 192.7 L611.8 192.8 L612.8 192.9 L613.8 192.9 L614.8 192.9 L615.8 192.9 L616.8 192.9 L616.8 193.2 L615.8 193.3 L614.8 193.3 L613.8 193.4 L612.8 193.5 L611.8 193.6 L610.8 193.7 L609.8 193.8 L608.8 193.9 L607.8 194.0 L606.8 194.1 L605.8 194.3 L604.8 194.5 L603.8 194.7 L602.8 194.9 L601.8 195.1 L600.8 195.3 L599.8 195.5 L598.8 195.7 L597.8 195.9 L596.8 196.0 L595.8 196.2 L594.8 196.3 L593.8 196.5 L592.8 196.7 L591.8 196.8 L590.8 197.0 L589.8 197.1 L588.8 197.3 L587.8 197.4 L586.8 197.5 L585.8 197.7 L584.8 197.8 L583.8 197.9 L582.8 198.0 L581.8 198.1 L580.8 198.1 L579.8 198.2 L578.8 198.3 L577.8 198.3 L576.8 198.4 L575.8 198.4 L574.8 198.5 L573.8 198.5 L572.8 198.6 L571.8 198.6 L570.8 198.7 L569.8 198.7 L568.8 198.8 L567.8 198.8 L566.8 198.9 L565.8 198.9 L564.8 198.9 L563.8 199.0 L562.8 199.0 L561.8 199.0 L560.8 199.1 L559.8 199.1 L558.8 199.1 L557.8 199.2 L556.8 199.2 L555.8 199.2 L554.8 199.2 L553.8 199.2 L552.8 199.3 L551.8 199.3 L550.8 199.3 L549.8 199.3 L548.8 199.3 L547.8 199.3 L546.8 199.3 L545.8 199.3 L544.8 199.3 Z" fill="#bff0b8" fill-opacity="0.8"/>
<path d="M544.8 199.1 L545.8 199.0 L546.8 198.9 L547.8 198.7 L548.8 198.6 L549.8 198.4 L550.8 198.1 L551.8 197.9 L552.8 197.5 L553.8 197.2 L554.8 196.7 L555.8 196.2 L556.8 195.6 L557.8 195.0 L558.8 194.2 L559.8 193.4 L560.8 192.5 L561.8 191.5 L562.8 190.4 L563.8 189.3 L564.8 188.1 L565.8 186.8 L566.8 185.5 L567.8 184.1 L568.8 182.8 L569.8 181.4 L570.8 180.1 L571.8 178.8 L572.8 177.5 L573.8 176.4 L574.8 175.3 L575.8 174.4 L576.8 173.6 L577.8 173.0 L578.8 172.5 L579.8 172.3 L580.8 172.2 L581.8 172.2 L582.8 172.5 L583.8 172.9 L584.8 173.4 L585.8 174.1 L586.8 174.9 L587.8 175.9 L588.8 176.9 L589.8 178.0 L590.8 179.1 L591.8 180.3 L592.8 181.4 L593.8 182.6 L594.8 183.7 L595.8 184.8 L596.8 185.9 L597.8 186.8 L598.8 187.7 L599.8 188.5 L600.8 189.2 L601.8 189.9 L602.8 190.4 L603.8 190.9 L604.8 191.3 L605.8 191.6 L606.8 191.9 L607.8 192.2 L608.8 192.4 L609.8 192.6 L610.8 192.7 L611.8 192.8 L612.8 192.9 L613.8 192.9 L614.8 192.9 L615.8 192.9 L616.8 192.9" fill="none" stroke="#1a6a1a" stroke-width="2.6"/>
<path d="M403.8 210.2 L404.8 210.2 L405.8 210.2 L406.8 210.1 L407.8 210.1 L408.8 210.1 L409.8 210.1 L410.8 210.0 L411.8 210.0 L412.8 210.0 L413.8 209.9 L414.8 209.9 L415.8 209.9 L416.8 209.8 L417.8 209.8 L418.8 209.8 L419.8 209.7 L420.8 209.7 L421.8 209.6 L422.8 209.6 L423.8 209.6 L424.8 209.5 L425.8 209.5 L426.8 209.4 L427.8 209.4 L428.8 209.4 L429.8 209.3 L430.8 209.3 L431.8 209.2 L432.8 209.2 L433.8 209.1 L434.8 209.1 L435.8 209.0 L436.8 209.0 L437.8 208.9 L438.8 208.9 L439.8 208.8 L440.8 208.8 L441.8 208.7 L442.8 208.7 L443.8 208.6 L444.8 208.5 L445.8 208.5 L446.8 208.4 L447.8 208.3 L448.8 208.2 L449.8 208.2 L450.8 208.1 L451.8 208.0 L452.8 207.9 L453.8 207.7 L454.8 207.5 L455.8 207.4 L456.8 207.1 L457.8 206.9 L458.8 206.6 L459.8 206.4 L460.8 206.1 L461.8 205.8 L462.8 205.6 L463.8 205.3 L464.8 205.0 L465.8 204.8 L466.8 204.5 L467.8 204.2 L468.8 203.9 L469.8 203.6 L470.8 203.3 L471.8 203.0 L472.8 202.7 L473.8 202.4 L474.8 202.1 L475.8 201.7 L476.8 201.5 L477.8 201.2 L478.8 200.9 L479.8 200.7 L480.8 200.5 L481.8 200.3 L482.8 200.2 L483.8 200.1 L484.8 200.0 L485.8 200.0 L486.8 199.9 L487.8 199.9 L488.8 199.8 L489.8 199.8 L490.8 199.8 L491.8 199.7 L492.8 199.7 L493.8 199.7 L494.8 199.7 L495.8 199.7 L496.8 199.6 L497.8 199.6 L498.8 199.6 L499.8 199.6 L500.8 199.6 L501.8 199.6 L502.8 199.6 L503.8 199.6 L504.8 199.6 L505.8 199.5 L506.8 199.5 L507.8 199.5 L508.8 199.5 L509.8 199.5 L510.8 199.5 L511.8 199.5 L512.8 199.5 L513.8 199.5 L514.8 199.5 L515.8 199.5 L516.8 199.5 L517.8 199.5 L518.8 199.5 L519.8 199.5 L520.8 199.5 L521.8 199.5 L522.8 199.5 L523.8 199.5 L524.8 199.5 L525.8 199.4 L526.8 199.4 L527.8 199.4 L528.8 199.4 L529.8 199.4 L530.8 199.4 L531.8 199.4 L532.8 199.4 L533.8 199.4 L534.8 199.4 L535.8 199.4 L536.8 199.4 L537.8 199.4 L538.8 199.4 L539.8 199.4 L540.8 199.4 L541.8 199.4 L542.8 199.4 L543.8 199.4 L544.8 199.3 L545.8 199.3 L546.8 199.3 L547.8 199.3 L548.8 199.3 L549.8 199.3 L550.8 199.3 L551.8 199.3 L552.8 199.3 L553.8 199.2 L554.8 199.2 L555.8 199.2 L556.8 199.2 L557.8 199.2 L558.8 199.1 L559.8 199.1 L560.8 199.1 L561.8 199.0 L562.8 199.0 L563.8 199.0 L564.8 198.9 L565.8 198.9 L566.8 198.9 L567.8 198.8 L568.8 198.8 L569.8 198.7 L570.8 198.7 L571.8 198.6 L572.8 198.6 L573.8 198.5 L574.8 198.5 L575.8 198.4 L576.8 198.4 L577.8 198.3 L578.8 198.3 L579.8 198.2 L580.8 198.1 L581.8 198.1 L582.8 198.0 L583.8 197.9 L584.8 197.8 L585.8 197.7 L586.8 197.5 L587.8 197.4 L588.8 197.3 L589.8 197.1 L590.8 197.0 L591.8 196.8 L592.8 196.7 L593.8 196.5 L594.8 196.3 L595.8 196.2 L596.8 196.0 L597.8 195.9 L598.8 195.7 L599.8 195.5 L600.8 195.3 L601.8 195.1 L602.8 194.9 L603.8 194.7 L604.8 194.5 L605.8 194.3 L606.8 194.1 L607.8 194.0 L608.8 193.9 L609.8 193.8 L610.8 193.7 L611.8 193.6 L612.8 193.5 L613.8 193.4 L614.8 193.3 L615.8 193.3 L616.8 193.2 L617.8 193.1 L618.8 193.0 L619.8 193.0 L620.8 192.9 L621.8 192.8 L622.8 192.8 L623.8 192.7 L624.8 192.7 L625.8 192.6 L626.8 192.6 L627.8 192.6 L628.8 192.5 L629.8 192.5 L630.8 192.5 L631.8 192.5 L632.8 192.5 L633.8 192.4 L634.8 192.4 L635.8 192.4 L636.8 192.4 L637.8 192.4 L638.8 192.4 L639.8 192.3 L640.8 192.3 L641.8 192.3 L642.8 192.3 L643.8 192.3 L644.8 192.3 L645.8 192.3 L646.8 192.3 L647.8 192.3 L648.8 192.3 L649.8 192.2 L650.8 192.2 L651.8 192.2 L652.8 192.2 L653.8 192.2 L654.8 192.2 L655.8 192.2 L656.8 192.2 L657.8 192.2 L658.8 192.2 L659.8 192.2 L660.8 192.2" fill="none" stroke="#5a0f14" stroke-width="2.4"/>
<path d="M404.3 210.0 L405.0 208.5 L405.7 208.1 L406.4 206.1 L407.1 207.6 L407.8 207.4 L408.5 207.7 L409.2 207.0 L409.9 207.6 L410.6 207.1 L411.3 206.1 L412.0 208.4 L412.7 208.3 L413.4 209.1 L414.1 207.2 L414.8 206.6 L415.5 206.3 L416.2 205.1 L416.9 207.8 L417.6 205.3 L418.3 205.0 L419.0 205.9 L419.7 207.6 L420.4 206.0 L421.1 204.4 L421.8 204.5 L422.5 205.7 L423.2 204.5 L423.9 203.5 L424.6 203.7 L425.3 204.4 L426.0 205.4 L426.7 201.3 L427.4 201.5 L428.1 200.8 L428.8 199.4 L429.5 199.5 L430.2 198.7 L430.9 200.4 L431.6 198.2 L432.3 195.8 L433.0 197.4 L433.7 195.3 L434.4 193.0 L435.1 192.9 L435.8 191.8 L436.5 190.2 L437.2 189.9 L437.9 186.7 L438.6 186.5 L439.3 186.3 L440.0 184.4 L440.7 182.8 L441.4 180.8 L442.1 179.0 L442.8 173.6 L443.5 173.5 L444.2 168.2 L444.9 166.2 L445.6 162.4 L446.3 162.0 L447.0 159.0 L447.7 153.5 L448.4 152.2 L449.1 145.2 L449.8 142.1 L450.5 137.7 L451.2 131.6 L451.9 128.9 L452.6 126.0 L453.3 117.1 L454.0 114.4 L454.7 107.7 L455.4 105.0 L456.1 97.7 L456.8 92.5 L457.5 86.9 L458.2 80.9 L458.9 74.0 L459.6 71.8 L460.3 63.5 L461.0 59.6 L461.7 55.2 L462.4 48.7 L463.1 45.2 L463.8 42.5 L464.5 36.7 L465.2 32.9 L465.9 29.9 L466.6 27.6 L467.3 25.9 L468.0 24.8 L468.7 24.3 L469.4 25.2 L470.1 25.8 L470.8 27.3 L471.5 31.0 L472.2 32.6 L472.9 35.8 L473.6 43.5 L474.3 45.6 L475.0 47.7 L475.7 52.8 L476.4 58.5 L477.1 64.2 L477.8 67.4 L478.5 71.3 L479.2 75.9 L479.9 82.9 L480.6 87.3 L481.3 91.1 L482.0 96.4 L482.7 100.9 L483.4 107.2 L484.1 109.9 L484.8 116.1 L485.5 120.9 L486.2 124.7 L486.9 127.1 L487.6 133.8 L488.3 135.0 L489.0 140.1 L489.7 142.1 L490.4 144.9 L491.1 149.8 L491.8 153.0 L492.5 155.4 L493.2 158.6 L493.9 160.1 L494.6 162.5 L495.3 165.6 L496.0 170.3 L496.7 171.2 L497.4 171.6 L498.1 174.8 L498.8 175.5 L499.5 177.2 L500.2 180.3 L500.9 180.3 L501.6 180.6 L502.3 182.6 L503.0 185.0 L503.7 186.2 L504.4 188.5 L505.1 187.3 L505.8 189.8 L506.5 190.3 L507.2 190.4 L507.9 192.3 L508.6 192.5 L509.3 191.6 L510.0 194.3 L510.7 192.2 L511.4 194.0 L512.1 194.3 L512.8 195.1 L513.5 194.2 L514.2 195.2 L514.9 195.3 L515.6 196.8 L516.3 195.0 L517.0 196.1 L517.7 195.8 L518.4 194.8 L519.1 199.3 L519.8 196.4 L520.5 194.9 L521.2 198.2 L521.9 195.5 L522.6 197.1 L523.3 197.7 L524.0 196.1 L524.7 196.3 L525.4 196.3 L526.1 196.7 L526.8 195.1 L527.5 195.6 L528.2 196.8 L528.9 198.1 L529.6 197.7 L530.3 198.9 L531.0 197.7 L531.7 196.4 L532.4 196.9 L533.1 195.2 L533.8 195.9 L534.5 195.9 L535.2 197.3 L535.9 197.7 L536.6 196.4 L537.3 196.3 L538.0 195.3 L538.7 196.8 L539.4 197.2 L540.1 197.4 L540.8 196.1 L541.5 199.1 L542.2 198.2 L542.9 196.7 L543.6 196.2 L544.3 196.4 L545.0 196.8 L545.7 196.6 L546.4 197.1 L547.1 197.3 L547.8 197.9 L548.5 197.5 L549.2 196.0 L549.9 196.4 L550.6 195.4 L551.3 194.9 L552.0 197.5 L552.7 194.6 L553.4 197.1 L554.1 194.2 L554.8 194.5 L555.5 195.1 L556.2 193.5 L556.9 193.5 L557.6 192.3 L558.3 191.5 L559.0 191.3 L559.7 190.1 L560.4 192.0 L561.1 189.3 L561.8 190.7 L562.5 186.2 L563.2 187.1 L563.9 186.9 L564.6 185.0 L565.3 185.6 L566.0 184.1 L566.7 182.0 L567.4 181.8 L568.1 183.4 L568.8 179.4 L569.5 178.2 L570.2 176.2 L570.9 175.6 L571.6 172.7 L572.3 172.7 L573.0 174.5 L573.7 171.5 L574.4 169.6 L575.1 168.7 L575.8 168.1 L576.5 165.0 L577.2 165.1 L577.9 162.2 L578.6 159.2 L579.3 159.2 L580.0 153.5 L580.7 152.1 L581.4 150.8 L582.1 146.8 L582.8 145.1 L583.5 141.6 L584.2 138.5 L584.9 139.6 L585.6 133.5 L586.3 129.1 L587.0 127.2 L587.7 121.3 L588.4 118.8 L589.1 114.1 L589.8 111.8 L590.5 104.2 L591.2 102.5 L591.9 97.7 L592.6 92.6 L593.3 91.7 L594.0 85.8 L594.7 86.0 L595.4 81.7 L596.1 79.5 L596.8 76.5 L597.5 76.2 L598.2 74.4 L598.9 74.0 L599.6 74.3 L600.3 75.1 L601.0 76.3 L601.7 78.3 L602.4 80.1 L603.1 85.4 L603.8 89.2 L604.5 89.2 L605.2 93.2 L605.9 97.5 L606.6 102.9 L607.3 107.8 L608.0 108.0 L608.7 112.5 L609.4 115.9 L610.1 119.8 L610.8 123.5 L611.5 128.9 L612.2 130.5 L612.9 137.1 L613.6 139.5 L614.3 140.0 L615.0 142.9 L615.7 146.1 L616.4 151.2 L617.1 151.0 L617.8 153.0 L618.5 156.9 L619.2 159.8 L619.9 160.9 L620.6 165.8 L621.3 166.4 L622.0 168.8 L622.7 169.3 L623.4 172.3 L624.1 174.0 L624.8 174.3 L625.5 178.0 L626.2 177.5 L626.9 180.7 L627.6 180.4 L628.3 185.5 L629.0 184.6 L629.7 186.2 L630.4 187.0 L631.1 185.3 L631.8 185.6 L632.5 187.5 L633.2 189.3 L633.9 188.8 L634.6 189.8 L635.3 190.2 L636.0 187.7 L636.7 189.9 L637.4 191.8 L638.1 189.1 L638.8 188.1 L639.5 189.7 L640.2 189.4 L640.9 190.5 L641.6 189.1 L642.3 190.2 L643.0 188.3 L643.7 191.0 L644.4 191.9 L645.1 191.6 L645.8 188.5 L646.5 190.5 L647.2 188.4 L647.9 190.5 L648.6 190.1 L649.3 189.1 L650.0 190.6 L650.7 190.4 L651.4 191.3 L652.1 190.4 L652.8 190.5 L653.5 188.5 L654.2 189.0 L654.9 189.8 L655.6 190.6 L656.3 190.3 L657.0 192.0 L657.7 189.4 L658.4 190.1 L659.1 190.6 L659.8 190.1 L660.5 190.9 L661.2 189.7" fill="none" stroke="#e01818" stroke-width="1.8"/>
<path d="M403.8 209.4 L404.8 209.4 L405.8 209.3 L406.8 209.3 L407.8 209.2 L408.8 209.1 L409.8 209.1 L410.8 209.0 L411.8 208.9 L412.8 208.7 L413.8 208.6 L414.8 208.5 L415.8 208.3 L416.8 208.1 L417.8 207.9 L418.8 207.6 L419.8 207.4 L420.8 207.0 L421.8 206.7 L422.8 206.3 L423.8 205.8 L424.8 205.3 L425.8 204.7 L426.8 204.1 L427.8 203.4 L428.8 202.6 L429.8 201.7 L430.8 200.7 L431.8 199.6 L432.8 198.4 L433.8 197.1 L434.8 195.6 L435.8 193.9 L436.8 192.1 L437.8 190.1 L438.8 187.9 L439.8 185.5 L440.8 182.8 L441.8 179.8 L442.8 176.6 L443.8 173.0 L444.8 169.0 L445.8 164.7 L446.8 160.1 L447.8 155.0 L448.8 149.5 L449.8 143.7 L450.8 137.4 L451.8 130.8 L452.8 123.9 L453.8 116.6 L454.8 109.1 L455.8 101.4 L456.8 93.6 L457.8 85.8 L458.8 78.0 L459.8 70.3 L460.8 63.0 L461.8 55.9 L462.8 49.3 L463.8 43.2 L464.8 37.9 L465.8 33.5 L466.8 30.1 L467.8 28.1 L468.8 27.5 L469.8 28.3 L470.8 30.5 L471.8 34.0 L472.8 38.4 L473.8 43.7 L474.8 49.6 L475.8 55.9 L476.8 62.5 L477.8 69.4 L478.8 76.3 L479.8 83.3 L480.8 90.4 L481.8 97.3 L482.8 104.2 L483.8 110.8 L484.8 117.3 L485.8 123.5 L486.8 129.4 L487.8 135.0 L488.8 140.3 L489.8 145.3 L490.8 149.9 L491.8 154.3 L492.8 158.4 L493.8 162.2 L494.8 165.7 L495.8 169.0 L496.8 172.1 L497.8 174.9 L498.8 177.5 L499.8 180.0 L500.8 182.2 L501.8 184.2 L502.8 186.0 L503.8 187.7 L504.8 189.1 L505.8 190.5 L506.8 191.6 L507.8 192.7 L508.8 193.6 L509.8 194.4 L510.8 195.0 L511.8 195.6 L512.8 196.1 L513.8 196.5 L514.8 196.8 L515.8 197.1 L516.8 197.4 L517.8 197.6 L518.8 197.7 L519.8 197.9 L520.8 198.0 L521.8 198.1 L522.8 198.1 L523.8 198.2 L524.8 198.2 L525.8 198.3 L526.8 198.3 L527.8 198.3 L528.8 198.4 L529.8 198.4 L530.8 198.4 L531.8 198.4 L532.8 198.4 L533.8 198.4 L534.8 198.4 L535.8 198.4 L536.8 198.4 L537.8 198.4 L538.8 198.4 L539.8 198.4 L540.8 198.3 L541.8 198.3 L542.8 198.2 L543.8 198.2 L544.8 198.1 L545.8 198.0 L546.8 197.9 L547.8 197.8 L548.8 197.6 L549.8 197.4 L550.8 197.1 L551.8 196.9 L552.8 196.5 L553.8 196.1 L554.8 195.7 L555.8 195.1 L556.8 194.5 L557.8 193.8 L558.8 193.1 L559.8 192.2 L560.8 191.2 L561.8 190.2 L562.8 189.1 L563.8 187.9 L564.8 186.6 L565.8 185.2 L566.8 183.7 L567.8 182.2 L568.8 180.6 L569.8 178.9 L570.8 177.2 L571.8 175.4 L572.8 173.5 L573.8 171.6 L574.8 169.6 L575.8 167.5 L576.8 165.2 L577.8 162.8 L578.8 160.1 L579.8 157.3 L580.8 154.2 L581.8 150.7 L582.8 147.0 L583.8 142.8 L584.8 138.4 L585.8 133.5 L586.8 128.3 L587.8 122.9 L588.8 117.2 L589.8 111.5 L590.8 105.7 L591.8 100.1 L592.8 94.8 L593.8 89.9 L594.8 85.6 L595.8 82.1 L596.8 79.5 L597.8 77.8 L598.8 77.2 L599.8 77.6 L600.8 79.0 L601.8 81.4 L602.8 84.7 L603.8 88.8 L604.8 93.5 L605.8 98.7 L606.8 104.3 L607.8 110.0 L608.8 115.8 L609.8 121.4 L610.8 126.7 L611.8 131.8 L612.8 136.5 L613.8 140.9 L614.8 145.1 L615.8 149.0 L616.8 152.7 L617.8 156.2 L618.8 159.6 L619.8 162.9 L620.8 166.1 L621.8 169.2 L622.8 172.2 L623.8 174.9 L624.8 177.5 L625.8 179.9 L626.8 182.0 L627.8 183.9 L628.8 185.5 L629.8 186.8 L630.8 187.9 L631.8 188.8 L632.8 189.5 L633.8 190.0 L634.8 190.4 L635.8 190.7 L636.8 191.0 L637.8 191.1 L638.8 191.3 L639.8 191.3 L640.8 191.4 L641.8 191.5 L642.8 191.5 L643.8 191.5 L644.8 191.5 L645.8 191.6 L646.8 191.6 L647.8 191.6 L648.8 191.6 L649.8 191.6 L650.8 191.6 L651.8 191.6 L652.8 191.7 L653.8 191.7 L654.8 191.7 L655.8 191.7 L656.8 191.7 L657.8 191.7 L658.8 191.7 L659.8 191.7 L660.8 191.8" fill="none" stroke="#0c0c1c" stroke-width="2.8"/>
<rect x="661.4" y="192" width="1.6" height="20.6" fill="#ff20ff"/>
<rect x="403.8" y="4.5" width="257.8" height="208.1" fill="none" stroke="#555" stroke-width="1.2"/>
<path d="M399.8 62.6H403.8M399.8 124.0H403.8M399.8 185.4H403.8M401.3 31.9H403.8M401.3 93.3H403.8M401.3 154.7H403.8M404.4 212.6v3.5M511.3 212.6v3.5M618.2 212.6v3.5M457.8 212.6v2.5M564.8 212.6v2.5M430.1 4.5v2.0M456.1 4.5v3.0M482.0 4.5v2.0M508.0 4.5v3.0M534.0 4.5v2.0M560.0 4.5v3.0M585.9 4.5v2.0M611.9 4.5v3.0M637.9 4.5v2.0M661.6 25.2h-2.0M661.6 46.0h-3.0M661.6 66.9h-2.0M661.6 87.8h-3.0M661.6 108.6h-2.0M661.6 129.4h-3.0M661.6 150.3h-2.0M661.6 171.1h-3.0M661.6 192.0h-2.0" stroke="#555" stroke-width="1"/>
<g font-size="11.5" text-anchor="end"><text x="396.5" y="66.6">6000</text><text x="396.5" y="128">4000</text><text x="396.5" y="189.4">2000</text></g>
<g font-size="11.5" text-anchor="middle"><text x="404.2" y="228.6">365</text><text x="511.3" y="228.6">370</text><text x="618.2" y="228.6">375</text></g>
<text x="535.8" y="244" font-size="13.7" text-anchor="middle">Binding energy (eV)</text>
<text transform="translate(362,103.6) rotate(-90)" font-size="13" text-anchor="middle">Counts/s</text>
<text x="361" y="19" font-size="19.8" style="stroke-width:0">(<tspan style="fill:#1e7fd0;stroke:#1e7fd0">b</tspan>)</text>
<text x="453.3" y="18.6" font-size="12.5">3d5/2</text>
<text x="588.5" y="64.1" font-size="12.8">3d3/2</text>
<text x="479.6" y="52.2" font-size="12" font-weight="bold" fill="#2020b0" style="fill:#2020b0;stroke:#2020b0">Ag<tspan font-size="8" dy="-6">3+</tspan></text>
<text x="416" y="181" font-size="12" font-weight="bold" style="fill:#1f7a1f;stroke:#1f7a1f">Ag<tspan font-size="8" dy="-6">1+</tspan></text>
</g>
<g id="pc">
<defs><linearGradient id="gp" x1="0" y1="0" x2="0" y2="1"><stop offset="0" stop-color="#f090f0"/><stop offset="1" stop-color="#ffffff" stop-opacity="0.6"/></linearGradient><linearGradient id="gc" x1="0" y1="0" x2="0" y2="1"><stop offset="0" stop-color="#a0f0f4"/><stop offset="1" stop-color="#ffffff" stop-opacity="0.6"/></linearGradient><linearGradient id="gy" x1="0" y1="0" x2="0" y2="1"><stop offset="0" stop-color="#d4e840"/><stop offset="1" stop-color="#f8fff0" stop-opacity="0.8"/></linearGradient><linearGradient id="gb" gradientUnits="userSpaceOnUse" x1="0" y1="414" x2="0" y2="494"><stop offset="0" stop-color="#3ce6e8"/><stop offset="0.48" stop-color="#b4f2f2"/><stop offset="0.8" stop-color="#f0fafa"/><stop offset="1" stop-color="#f8f8f8"/></linearGradient></defs>
<rect x="0" y="277.3" width="325" height="256" fill="#f7f7f7"/>
<rect x="3" y="268" width="36" height="30" fill="#fdfdfd"/>
<path d="M59.1 493.5 L60.1 493.5 L61.1 493.5 L62.1 493.5 L63.1 493.4 L64.1 493.4 L65.1 493.4 L66.1 493.4 L67.1 493.3 L68.1 493.3 L69.1 493.2 L70.1 493.2 L71.1 493.1 L72.1 493.1 L73.1 493.0 L74.1 492.9 L75.1 492.8 L76.1 492.7 L77.1 492.6 L78.1 492.4 L79.1 492.3 L80.1 492.1 L81.1 491.9 L82.1 491.8 L83.1 491.5 L84.1 491.2 L85.1 490.7 L86.1 490.2 L87.1 489.7 L88.1 489.1 L89.1 488.5 L90.1 487.8 L91.1 487.1 L92.1 486.5 L93.1 485.8 L94.1 485.1 L95.1 484.4 L96.1 483.7 L97.1 483.0 L98.1 482.1 L99.1 481.3 L100.1 480.4 L101.1 479.6 L102.1 478.8 L103.1 478.1 L104.1 477.5 L105.1 477.0 L106.1 476.6 L107.1 476.1 L108.1 475.7 L109.1 475.3 L110.1 474.9 L111.1 474.6 L112.1 474.2 L113.1 473.9 L114.1 473.6 L115.1 473.3 L116.1 473.0 L117.1 472.8 L118.1 472.5 L119.1 472.3 L120.1 472.1 L121.1 472.0 L122.1 471.8 L123.1 471.7 L124.1 471.5 L125.1 471.4 L126.1 471.3 L127.1 471.2 L128.1 471.1 L129.1 471.0 L130.1 470.9 L131.1 470.8 L132.1 470.8 L133.1 470.7 L134.1 470.6 L135.1 470.5 L136.1 470.4 L137.1 470.4 L138.1 470.3 L139.1 470.2 L140.1 470.1 L141.1 470.0 L142.1 469.8 L143.1 469.7 L144.1 469.5 L145.1 469.4 L146.1 469.2 L147.1 469.0 L148.1 468.7 L149.1 468.4 L150.1 468.0 L151.1 467.7 L152.1 467.3 L153.1 466.9 L154.1 466.5 L155.1 466.0 L156.1 465.6 L157.1 465.2 L158.1 464.8 L159.1 464.4 L160.1 464.0 L161.1 463.6 L162.1 463.3 L163.1 463.0 L164.1 462.7 L165.1 462.5 L166.1 462.3 L167.1 462.0 L168.1 461.8 L169.1 461.6 L170.1 461.4 L171.1 461.2 L172.1 461.0 L173.1 460.8 L174.1 460.6 L175.1 460.4 L176.1 460.2 L177.1 460.1 L178.1 459.9 L179.1 459.8 L180.1 459.7 L181.1 459.6 L182.1 459.5 L183.1 459.5 L184.1 459.5 L185.1 459.4 L186.1 459.4 L187.1 459.4 L188.1 459.3 L189.1 459.3 L190.1 459.3 L191.1 459.3 L192.1 459.3 L193.1 459.3 L194.1 459.2 L195.1 459.2 L196.1 459.2 L197.1 459.2 L198.1 459.2 L199.1 459.2 L200.1 459.2 L201.1 459.2 L202.1 459.2 L203.1 459.2 L204.1 459.1 L205.1 459.1 L206.1 459.1 L207.1 459.1 L208.1 459.1 L209.1 459.1 L210.1 459.1 L211.1 459.0 L212.1 459.0 L213.1 459.0 L214.1 459.0 L215.1 458.9 L216.1 458.9 L217.1 458.9 L218.1 458.8 L219.1 458.8 L220.1 458.7 L221.1 458.5 L222.1 458.3 L223.1 458.0 L224.1 457.7 L225.1 457.3 L226.1 456.9 L227.1 456.4 L228.1 456.0 L229.1 455.5 L230.1 455.0 L231.1 454.5 L232.1 453.8 L233.1 453.0 L234.1 452.2 L235.1 451.3 L236.1 450.4 L237.1 449.5 L238.1 448.5 L239.1 447.5 L240.1 446.5 L241.1 445.5 L242.1 444.6 L243.1 443.7 L244.1 442.8 L245.1 441.9 L246.1 441.1 L247.1 440.3 L248.1 439.5 L249.1 438.7 L250.1 437.9 L251.1 437.1 L252.1 436.2 L253.1 435.3 L254.1 434.4 L255.1 433.5 L256.1 432.8 L257.1 432.1 L258.1 431.6 L259.1 431.3 L260.1 431.0 L261.1 430.7 L262.1 430.5 L263.1 430.3 L264.1 430.1 L265.1 429.9 L266.1 429.7 L267.1 429.6 L268.1 429.4 L269.1 429.3 L270.1 429.1 L271.1 429.0 L272.1 428.9 L273.1 428.8 L274.1 428.6 L275.1 428.5 L276.1 428.4 L277.1 428.3 L278.1 428.2 L279.1 428.1 L280.1 428.0 L281.1 427.9 L282.1 427.7 L283.1 427.6 L284.1 427.4 L285.1 427.3 L286.1 427.2 L287.1 427.0 L288.1 426.9 L289.1 426.7 L290.1 426.6 L291.1 426.4 L292.1 426.3 L293.1 426.1 L294.1 425.9 L295.1 425.8 L296.1 425.6 L297.1 425.3 L298.1 425.1 L299.1 424.9 L300.1 424.6 L301.1 424.4 L302.1 424.0 L303.1 423.7 L304.1 423.3 L305.1 422.8 L306.1 422.3 L307.1 421.8 L308.1 421.2 L309.1 420.6 L310.1 420.0 L311.1 419.3 L312.1 418.6 L313.1 417.9 L314.1 417.2 L315.1 416.5 L316.1 415.7 L316.1 493.6 L315.1 493.6 L314.1 493.6 L313.1 493.6 L312.1 493.6 L311.1 493.6 L310.1 493.6 L309.1 493.6 L308.1 493.6 L307.1 493.6 L306.1 493.6 L305.1 493.6 L304.1 493.6 L303.1 493.6 L302.1 493.6 L301.1 493.6 L300.1 493.6 L299.1 493.6 L298.1 493.6 L297.1 493.6 L296.1 493.6 L295.1 493.6 L294.1 493.6 L293.1 493.6 L292.1 493.6 L291.1 493.6 L290.1 493.6 L289.1 493.6 L288.1 493.6 L287.1 493.6 L286.1 493.6 L285.1 493.6 L284.1 493.6 L283.1 493.6 L282.1 493.6 L281.1 493.6 L280.1 493.6 L279.1 493.6 L278.1 493.6 L277.1 493.6 L276.1 493.6 L275.1 493.6 L274.1 493.6 L273.1 493.6 L272.1 493.6 L271.1 493.6 L270.1 493.6 L269.1 493.6 L268.1 493.6 L267.1 493.6 L266.1 493.6 L265.1 493.6 L264.1 493.6 L263.1 493.6 L262.1 493.6 L261.1 493.6 L260.1 493.6 L259.1 493.6 L258.1 493.6 L257.1 493.6 L256.1 493.6 L255.1 493.6 L254.1 493.6 L253.1 493.6 L252.1 493.6 L251.1 493.6 L250.1 493.6 L249.1 493.6 L248.1 493.6 L247.1 493.6 L246.1 493.6 L245.1 493.6 L244.1 493.6 L243.1 493.6 L242.1 493.6 L241.1 493.6 L240.1 493.6 L239.1 493.6 L238.1 493.6 L237.1 493.6 L236.1 493.6 L235.1 493.6 L234.1 493.6 L233.1 493.6 L232.1 493.6 L231.1 493.6 L230.1 493.6 L229.1 493.6 L228.1 493.6 L227.1 493.6 L226.1 493.6 L225.1 493.6 L224.1 493.6 L223.1 493.6 L222.1 493.6 L221.1 493.6 L220.1 493.6 L219.1 493.6 L218.1 493.6 L217.1 493.6 L216.1 493.6 L215.1 493.6 L214.1 493.6 L213.1 493.6 L212.1 493.6 L211.1 493.6 L210.1 493.6 L209.1 493.6 L208.1 493.6 L207.1 493.6 L206.1 493.6 L205.1 493.6 L204.1 493.6 L203.1 493.6 L202.1 493.6 L201.1 493.6 L200.1 493.6 L199.1 493.6 L198.1 493.6 L197.1 493.6 L196.1 493.6 L195.1 493.6 L194.1 493.6 L193.1 493.6 L192.1 493.6 L191.1 493.6 L190.1 493.6 L189.1 493.6 L188.1 493.6 L187.1 493.6 L186.1 493.6 L185.1 493.6 L184.1 493.6 L183.1 493.6 L182.1 493.6 L181.1 493.6 L180.1 493.6 L179.1 493.6 L178.1 493.6 L177.1 493.6 L176.1 493.6 L175.1 493.6 L174.1 493.6 L173.1 493.6 L172.1 493.6 L171.1 493.6 L170.1 493.6 L169.1 493.6 L168.1 493.6 L167.1 493.6 L166.1 493.6 L165.1 493.6 L164.1 493.6 L163.1 493.6 L162.1 493.6 L161.1 493.6 L160.1 493.6 L159.1 493.6 L158.1 493.6 L157.1 493.6 L156.1 493.6 L155.1 493.6 L154.1 493.6 L153.1 493.6 L152.1 493.6 L151.1 493.6 L150.1 493.6 L149.1 493.6 L148.1 493.6 L147.1 493.6 L146.1 493.6 L145.1 493.6 L144.1 493.6 L143.1 493.6 L142.1 493.6 L141.1 493.6 L140.1 493.6 L139.1 493.6 L138.1 493.6 L137.1 493.6 L136.1 493.6 L135.1 493.6 L134.1 493.6 L133.1 493.6 L132.1 493.6 L131.1 493.6 L130.1 493.6 L129.1 493.6 L128.1 493.6 L127.1 493.6 L126.1 493.6 L125.1 493.6 L124.1 493.6 L123.1 493.6 L122.1 493.6 L121.1 493.6 L120.1 493.6 L119.1 493.6 L118.1 493.6 L117.1 493.6 L116.1 493.6 L115.1 493.6 L114.1 493.6 L113.1 493.6 L112.1 493.6 L111.1 493.6 L110.1 493.6 L109.1 493.6 L108.1 493.6 L107.1 493.6 L106.1 493.6 L105.1 493.6 L104.1 493.6 L103.1 493.6 L102.1 493.6 L101.1 493.6 L100.1 493.6 L99.1 493.6 L98.1 493.6 L97.1 493.6 L96.1 493.6 L95.1 493.6 L94.1 493.6 L93.1 493.6 L92.1 493.6 L91.1 493.6 L90.1 493.6 L89.1 493.6 L88.1 493.6 L87.1 493.6 L86.1 493.6 L85.1 493.6 L84.1 493.6 L83.1 493.6 L82.1 493.6 L81.1 493.6 L80.1 493.6 L79.1 493.6 L78.1 493.6 L77.1 493.6 L76.1 493.6 L75.1 493.6 L74.1 493.6 L73.1 493.6 L72.1 493.6 L71.1 493.6 L70.1 493.6 L69.1 493.6 L68.1 493.6 L67.1 493.6 L66.1 493.6 L65.1 493.6 L64.1 493.6 L63.1 493.6 L62.1 493.6 L61.1 493.6 L60.1 493.6 L59.1 493.6 Z" fill="url(#gb)"/>
<path d="M59.6 492.6 L60.3 489.7 L61.0 490.3 L61.7 490.7 L62.4 489.1 L63.1 490.0 L63.8 489.9 L64.5 487.4 L65.2 490.9 L65.9 490.2 L66.6 488.3 L67.3 488.7 L68.0 489.3 L68.7 487.9 L69.4 487.5 L70.1 485.3 L70.8 487.4 L71.5 486.0 L72.2 485.3 L72.9 481.6 L73.6 484.6 L74.3 480.8 L75.0 478.1 L75.7 479.1 L76.4 473.4 L77.1 468.1 L77.8 465.9 L78.5 458.6 L79.2 459.1 L79.9 451.2 L80.6 444.5 L81.3 441.2 L82.0 428.9 L82.7 425.1 L83.4 411.4 L84.1 405.4 L84.8 394.8 L85.5 391.2 L86.2 382.3 L86.9 367.6 L87.6 361.0 L88.3 349.1 L89.0 342.4 L89.7 330.8 L90.4 320.8 L91.1 314.1 L91.8 315.8 L92.5 317.7 L93.2 309.2 L93.9 305.8 L94.6 313.5 L95.3 309.7 L96.0 311.6 L96.7 315.5 L97.4 318.4 L98.1 322.4 L98.8 324.5 L99.5 335.3 L100.2 339.3 L100.9 348.4 L101.6 350.1 L102.3 352.1 L103.0 362.1 L103.7 371.8 L104.4 372.1 L105.1 376.1 L105.8 380.2 L106.5 385.1 L107.2 391.0 L107.9 393.3 L108.6 402.7 L109.3 402.8 L110.0 407.2 L110.7 413.2 L111.4 416.6 L112.1 416.6 L112.8 420.7 L113.5 424.5 L114.2 425.8 L114.9 426.0 L115.6 432.9 L116.3 436.0 L117.0 437.8 L117.7 438.0 L118.4 441.5 L119.1 443.1 L119.8 445.5 L120.5 449.8 L121.2 451.9 L121.9 452.1 L122.6 453.3 L123.3 454.7 L124.0 454.9 L124.7 455.7 L125.4 455.8 L126.1 457.4 L126.8 461.3 L127.5 459.9 L128.2 458.6 L128.9 458.8 L129.6 458.6 L130.3 460.5 L131.0 460.6 L131.7 458.1 L132.4 460.7 L133.1 459.0 L133.8 461.4 L134.5 459.1 L135.2 460.6 L135.9 456.7 L136.6 455.8 L137.3 455.3 L138.0 454.9 L138.7 452.4 L139.4 447.7 L140.1 447.6 L140.8 444.8 L141.5 441.4 L142.2 438.1 L142.9 438.9 L143.6 432.2 L144.3 428.1 L145.0 427.3 L145.7 423.1 L146.4 419.5 L147.1 417.8 L147.8 414.3 L148.5 411.3 L149.2 409.9 L149.9 406.4 L150.6 402.9 L151.3 401.8 L152.0 400.4 L152.7 401.2 L153.4 398.4 L154.1 396.9 L154.8 401.1 L155.5 399.0 L156.2 398.7 L156.9 404.2 L157.6 403.2 L158.3 406.6 L159.0 405.8 L159.7 405.6 L160.4 406.1 L161.1 408.0 L161.8 408.5 L162.5 407.4 L163.2 408.0 L163.9 405.1 L164.6 407.0 L165.3 402.7 L166.0 404.5 L166.7 405.0 L167.4 404.7 L168.1 405.0 L168.8 398.5 L169.5 402.7 L170.2 403.8 L170.9 404.3 L171.6 402.2 L172.3 406.4 L173.0 411.4 L173.7 408.2 L174.4 414.7 L175.1 419.1 L175.8 419.6 L176.5 425.3 L177.2 426.2 L177.9 430.1 L178.6 433.4 L179.3 438.1 L180.0 440.6 L180.7 444.7 L181.4 444.3 L182.1 447.6 L182.8 450.8 L183.5 451.8 L184.2 450.5 L184.9 454.3 L185.6 453.6 L186.3 455.5 L187.0 455.9 L187.7 457.5 L188.4 456.4 L189.1 454.1 L189.8 454.9 L190.5 457.8 L191.2 456.6 L191.9 458.5 L192.6 457.4 L193.3 456.1 L194.0 458.5 L194.7 456.0 L195.4 454.4 L196.1 459.8 L196.8 454.6 L197.5 457.9 L198.2 458.3 L198.9 457.2 L199.6 454.8 L200.3 458.3 L201.0 455.1 L201.7 455.2 L202.4 456.5 L203.1 458.0 L203.8 457.3 L204.5 457.9 L205.2 456.3 L205.9 456.6 L206.6 455.3 L207.3 456.3 L208.0 457.5 L208.7 456.3 L209.4 457.2 L210.1 455.8 L210.8 455.7 L211.5 456.5 L212.2 456.1 L212.9 457.0 L213.6 456.4 L214.3 458.3 L215.0 455.5 L215.7 455.3 L216.4 454.0 L217.1 455.2 L217.8 455.7 L218.5 453.5 L219.2 454.0 L219.9 454.5 L220.6 452.7 L221.3 451.4 L222.0 452.5 L222.7 450.3 L223.4 449.6 L224.1 449.4 L224.8 447.8 L225.5 444.1 L226.2 442.1 L226.9 441.3 L227.6 438.5 L228.3 433.6 L229.0 435.8 L229.7 431.2 L230.4 429.5 L231.1 423.5 L231.8 424.1 L232.5 417.6 L233.2 414.9 L233.9 409.0 L234.6 407.3 L235.3 403.4 L236.0 399.6 L236.7 397.0 L237.4 392.5 L238.1 390.6 L238.8 384.4 L239.5 380.1 L240.2 378.9 L240.9 377.4 L241.6 376.2 L242.3 373.2 L243.0 366.3 L243.7 369.3 L244.4 370.5 L245.1 367.0 L245.8 365.7 L246.5 367.6 L247.2 366.4 L247.9 369.5 L248.6 369.3 L249.3 373.4 L250.0 373.2 L250.7 372.5 L251.4 376.8 L252.1 379.3 L252.8 378.4 L253.5 380.7 L254.2 379.3 L254.9 387.0 L255.6 386.3 L256.3 385.7 L257.0 388.3 L257.7 392.9 L258.4 396.4 L259.1 396.9 L259.8 399.6 L260.5 398.8 L261.2 400.1 L261.9 405.1 L262.6 405.9 L263.3 406.4 L264.0 409.7 L264.7 407.5 L265.4 409.4 L266.1 412.6 L266.8 414.7 L267.5 413.0 L268.2 416.3 L268.9 413.8 L269.6 415.9 L270.3 415.9 L271.0 414.7 L271.7 417.9 L272.4 419.5 L273.1 418.5 L273.8 419.2 L274.5 421.7 L275.2 418.6 L275.9 418.7 L276.6 420.2 L277.3 419.8 L278.0 423.6 L278.7 422.5 L279.4 421.1 L280.1 421.7 L280.8 426.4 L281.5 421.9 L282.2 421.7 L282.9 423.1 L283.6 423.5 L284.3 422.8 L285.0 421.1 L285.7 420.5 L286.4 422.5 L287.1 421.2 L287.8 418.6 L288.5 421.7 L289.2 420.5 L289.9 418.3 L290.6 417.4 L291.3 417.0 L292.0 414.6 L292.7 412.4 L293.4 413.3 L294.1 409.3 L294.8 410.2 L295.5 405.7 L296.2 405.8 L296.9 403.6 L297.6 404.4 L298.3 397.8 L299.0 394.9 L299.7 393.7 L300.4 390.5 L301.1 388.9 L301.8 388.1 L302.5 386.2 L303.2 385.3 L303.9 379.0 L304.6 382.6 L305.3 379.5 L306.0 373.7 L306.7 368.4 L307.4 370.8 L308.1 369.9 L308.8 364.7 L309.5 368.3 L310.2 367.3 L310.9 366.1 L311.6 368.8 L312.3 369.8 L313.0 367.8 L313.7 370.0 L314.4 369.5 L315.1 370.4 L315.8 373.4" fill="none" stroke="#e81010" stroke-width="1.8"/>
<path d="M59.1 492.1 L60.1 492.0 L61.1 491.9 L62.1 491.8 L63.1 491.7 L64.1 491.5 L65.1 491.3 L66.1 491.1 L67.1 490.7 L68.1 490.4 L69.1 489.9 L70.1 489.2 L71.1 488.3 L72.1 487.2 L73.1 485.7 L74.1 483.7 L75.1 481.2 L76.1 478.0 L77.1 474.0 L78.1 469.0 L79.1 463.1 L80.1 456.1 L81.1 448.1 L82.1 438.9 L83.1 428.8 L84.1 417.8 L85.1 406.2 L86.1 394.3 L87.1 382.6 L88.1 371.5 L89.1 361.6 L90.1 353.3 L91.1 347.1 L92.1 343.5 L93.1 342.5 L94.1 344.3 L95.1 348.6 L96.1 355.2 L97.1 363.4 L98.1 372.9 L99.1 383.1 L100.1 393.6 L101.1 404.0 L102.1 414.0 L103.1 423.4 L104.1 431.9 L105.1 439.5 L106.1 446.1 L107.1 451.7 L108.1 456.2 L109.1 459.9 L110.1 462.7 L111.1 464.9 L112.1 466.5 L113.1 467.7 L114.1 468.6 L115.1 469.1 L116.1 469.5 L117.1 469.7 L118.1 469.9 L119.1 470.0 L120.1 470.0 L121.1 470.0 L122.1 470.0 L123.1 470.0 L124.1 470.0 L125.1 469.9 L126.1 469.9 L127.1 469.9 L128.1 469.9 L129.1 469.8 L130.1 469.8 L131.1 469.8 L132.1 469.7 L133.1 469.7 L134.1 469.7 L135.1 469.6 L136.1 469.6 L137.1 469.6 L138.1 469.5 L139.1 469.4 L140.1 469.4 L141.1 469.3 L142.1 469.2 L143.1 469.1 L144.1 468.9 L145.1 468.8 L146.1 468.6 L147.1 468.4 L148.1 468.2 L149.1 467.9 L150.1 467.5 L151.1 467.2 L152.1 466.8 L153.1 466.4 L154.1 466.0 L155.1 465.6 L156.1 465.2 L157.1 464.8 L158.1 464.4 L159.1 464.0 L160.1 463.7 L161.1 463.3 L162.1 463.0 L163.1 462.7 L164.1 462.4 L165.1 462.2 L166.1 462.0 L167.1 461.7 L167.1 462.0 L166.1 462.3 L165.1 462.5 L164.1 462.7 L163.1 463.0 L162.1 463.3 L161.1 463.6 L160.1 464.0 L159.1 464.4 L158.1 464.8 L157.1 465.2 L156.1 465.6 L155.1 466.0 L154.1 466.5 L153.1 466.9 L152.1 467.3 L151.1 467.7 L150.1 468.0 L149.1 468.4 L148.1 468.7 L147.1 469.0 L146.1 469.2 L145.1 469.4 L144.1 469.5 L143.1 469.7 L142.1 469.8 L141.1 470.0 L140.1 470.1 L139.1 470.2 L138.1 470.3 L137.1 470.4 L136.1 470.4 L135.1 470.5 L134.1 470.6 L133.1 470.7 L132.1 470.8 L131.1 470.8 L130.1 470.9 L129.1 471.0 L128.1 471.1 L127.1 471.2 L126.1 471.3 L125.1 471.4 L124.1 471.5 L123.1 471.7 L122.1 471.8 L121.1 472.0 L120.1 472.1 L119.1 472.3 L118.1 472.5 L117.1 472.8 L116.1 473.0 L115.1 473.3 L114.1 473.6 L113.1 473.9 L112.1 474.2 L111.1 474.6 L110.1 474.9 L109.1 475.3 L108.1 475.7 L107.1 476.1 L106.1 476.6 L105.1 477.0 L104.1 477.5 L103.1 478.1 L102.1 478.8 L101.1 479.6 L100.1 480.4 L99.1 481.3 L98.1 482.1 L97.1 483.0 L96.1 483.7 L95.1 484.4 L94.1 485.1 L93.1 485.8 L92.1 486.5 L91.1 487.1 L90.1 487.8 L89.1 488.5 L88.1 489.1 L87.1 489.7 L86.1 490.2 L85.1 490.7 L84.1 491.2 L83.1 491.5 L82.1 491.8 L81.1 491.9 L80.1 492.1 L79.1 492.3 L78.1 492.4 L77.1 492.6 L76.1 492.7 L75.1 492.8 L74.1 492.9 L73.1 493.0 L72.1 493.1 L71.1 493.1 L70.1 493.2 L69.1 493.2 L68.1 493.3 L67.1 493.3 L66.1 493.4 L65.1 493.4 L64.1 493.4 L63.1 493.4 L62.1 493.5 L61.1 493.5 L60.1 493.5 L59.1 493.5 Z" fill="url(#gp)" fill-opacity="0.85"/>
<path d="M59.1 492.1 L60.1 492.0 L61.1 491.9 L62.1 491.8 L63.1 491.7 L64.1 491.5 L65.1 491.3 L66.1 491.1 L67.1 490.7 L68.1 490.4 L69.1 489.9 L70.1 489.2 L71.1 488.3 L72.1 487.2 L73.1 485.7 L74.1 483.7 L75.1 481.2 L76.1 478.0 L77.1 474.0 L78.1 469.0 L79.1 463.1 L80.1 456.1 L81.1 448.1 L82.1 438.9 L83.1 428.8 L84.1 417.8 L85.1 406.2 L86.1 394.3 L87.1 382.6 L88.1 371.5 L89.1 361.6 L90.1 353.3 L91.1 347.1 L92.1 343.5 L93.1 342.5 L94.1 344.3 L95.1 348.6 L96.1 355.2 L97.1 363.4 L98.1 372.9 L99.1 383.1 L100.1 393.6 L101.1 404.0 L102.1 414.0 L103.1 423.4 L104.1 431.9 L105.1 439.5 L106.1 446.1 L107.1 451.7 L108.1 456.2 L109.1 459.9 L110.1 462.7 L111.1 464.9 L112.1 466.5 L113.1 467.7 L114.1 468.6 L115.1 469.1 L116.1 469.5 L117.1 469.7 L118.1 469.9 L119.1 470.0 L120.1 470.0 L121.1 470.0 L122.1 470.0 L123.1 470.0 L124.1 470.0 L125.1 469.9 L126.1 469.9 L127.1 469.9 L128.1 469.9 L129.1 469.8 L130.1 469.8 L131.1 469.8 L132.1 469.7 L133.1 469.7 L134.1 469.7 L135.1 469.6 L136.1 469.6 L137.1 469.6 L138.1 469.5 L139.1 469.4 L140.1 469.4 L141.1 469.3 L142.1 469.2 L143.1 469.1 L144.1 468.9 L145.1 468.8 L146.1 468.6 L147.1 468.4 L148.1 468.2 L149.1 467.9 L150.1 467.5 L151.1 467.2 L152.1 466.8 L153.1 466.4 L154.1 466.0 L155.1 465.6 L156.1 465.2 L157.1 464.8 L158.1 464.4 L159.1 464.0 L160.1 463.7 L161.1 463.3 L162.1 463.0 L163.1 462.7 L164.1 462.4 L165.1 462.2 L166.1 462.0 L167.1 461.7" fill="none" stroke="#1c1ce8" stroke-width="2.5"/>
<path d="M192.1 459.0 L193.1 459.0 L194.1 458.9 L195.1 458.9 L196.1 458.9 L197.1 458.9 L198.1 458.8 L199.1 458.8 L200.1 458.8 L201.1 458.8 L202.1 458.7 L203.1 458.7 L204.1 458.7 L205.1 458.6 L206.1 458.6 L207.1 458.5 L208.1 458.5 L209.1 458.4 L210.1 458.3 L211.1 458.2 L212.1 458.1 L213.1 458.0 L214.1 457.8 L215.1 457.6 L216.1 457.3 L217.1 456.9 L218.1 456.5 L219.1 455.9 L220.1 455.2 L221.1 454.2 L222.1 453.0 L223.1 451.5 L224.1 449.7 L225.1 447.6 L226.1 445.2 L227.1 442.5 L228.1 439.4 L229.1 436.0 L230.1 432.2 L231.1 428.0 L232.1 423.5 L233.1 418.7 L234.1 413.7 L235.1 408.6 L236.1 403.4 L237.1 398.4 L238.1 393.5 L239.1 389.0 L240.1 385.0 L241.1 381.6 L242.1 378.9 L243.1 376.9 L244.1 375.8 L245.1 375.5 L246.1 376.0 L247.1 377.3 L248.1 379.1 L249.1 381.6 L250.1 384.5 L251.1 387.6 L252.1 390.9 L253.1 394.2 L254.1 397.5 L255.1 400.8 L256.1 404.0 L257.1 407.1 L258.1 410.1 L259.1 412.9 L260.1 415.4 L261.1 417.7 L262.1 419.6 L263.1 421.3 L264.1 422.7 L265.1 423.9 L266.1 424.8 L267.1 425.6 L268.1 426.2 L269.1 426.6 L270.1 426.9 L271.1 427.2 L272.1 427.4 L273.1 427.5 L274.1 427.5 L275.1 427.6 L276.1 427.6 L277.1 427.5 L278.1 427.5 L279.1 427.4 L280.1 427.4 L281.1 427.3 L282.1 427.2 L283.1 427.1 L284.1 427.0 L285.1 426.8 L286.1 426.7 L287.1 426.6 L288.1 426.5 L289.1 426.4 L290.1 426.2 L291.1 426.1 L292.1 425.9 L293.1 425.8 L294.1 425.6 L295.1 425.5 L295.1 425.8 L294.1 425.9 L293.1 426.1 L292.1 426.3 L291.1 426.4 L290.1 426.6 L289.1 426.7 L288.1 426.9 L287.1 427.0 L286.1 427.2 L285.1 427.3 L284.1 427.4 L283.1 427.6 L282.1 427.7 L281.1 427.9 L280.1 428.0 L279.1 428.1 L278.1 428.2 L277.1 428.3 L276.1 428.4 L275.1 428.5 L274.1 428.6 L273.1 428.8 L272.1 428.9 L271.1 429.0 L270.1 429.1 L269.1 429.3 L268.1 429.4 L267.1 429.6 L266.1 429.7 L265.1 429.9 L264.1 430.1 L263.1 430.3 L262.1 430.5 L261.1 430.7 L260.1 431.0 L259.1 431.3 L258.1 431.6 L257.1 432.1 L256.1 432.8 L255.1 433.5 L254.1 434.4 L253.1 435.3 L252.1 436.2 L251.1 437.1 L250.1 437.9 L249.1 438.7 L248.1 439.5 L247.1 440.3 L246.1 441.1 L245.1 441.9 L244.1 442.8 L243.1 443.7 L242.1 444.6 L241.1 445.5 L240.1 446.5 L239.1 447.5 L238.1 448.5 L237.1 449.5 L236.1 450.4 L235.1 451.3 L234.1 452.2 L233.1 453.0 L232.1 453.8 L231.1 454.5 L230.1 455.0 L229.1 455.5 L228.1 456.0 L227.1 456.4 L226.1 456.9 L225.1 457.3 L224.1 457.7 L223.1 458.0 L222.1 458.3 L221.1 458.5 L220.1 458.7 L219.1 458.8 L218.1 458.8 L217.1 458.9 L216.1 458.9 L215.1 458.9 L214.1 459.0 L213.1 459.0 L212.1 459.0 L211.1 459.0 L210.1 459.1 L209.1 459.1 L208.1 459.1 L207.1 459.1 L206.1 459.1 L205.1 459.1 L204.1 459.1 L203.1 459.2 L202.1 459.2 L201.1 459.2 L200.1 459.2 L199.1 459.2 L198.1 459.2 L197.1 459.2 L196.1 459.2 L195.1 459.2 L194.1 459.2 L193.1 459.3 L192.1 459.3 Z" fill="url(#gp)" fill-opacity="0.85"/>
<path d="M192.1 459.0 L193.1 459.0 L194.1 458.9 L195.1 458.9 L196.1 458.9 L197.1 458.9 L198.1 458.8 L199.1 458.8 L200.1 458.8 L201.1 458.8 L202.1 458.7 L203.1 458.7 L204.1 458.7 L205.1 458.6 L206.1 458.6 L207.1 458.5 L208.1 458.5 L209.1 458.4 L210.1 458.3 L211.1 458.2 L212.1 458.1 L213.1 458.0 L214.1 457.8 L215.1 457.6 L216.1 457.3 L217.1 456.9 L218.1 456.5 L219.1 455.9 L220.1 455.2 L221.1 454.2 L222.1 453.0 L223.1 451.5 L224.1 449.7 L225.1 447.6 L226.1 445.2 L227.1 442.5 L228.1 439.4 L229.1 436.0 L230.1 432.2 L231.1 428.0 L232.1 423.5 L233.1 418.7 L234.1 413.7 L235.1 408.6 L236.1 403.4 L237.1 398.4 L238.1 393.5 L239.1 389.0 L240.1 385.0 L241.1 381.6 L242.1 378.9 L243.1 376.9 L244.1 375.8 L245.1 375.5 L246.1 376.0 L247.1 377.3 L248.1 379.1 L249.1 381.6 L250.1 384.5 L251.1 387.6 L252.1 390.9 L253.1 394.2 L254.1 397.5 L255.1 400.8 L256.1 404.0 L257.1 407.1 L258.1 410.1 L259.1 412.9 L260.1 415.4 L261.1 417.7 L262.1 419.6 L263.1 421.3 L264.1 422.7 L265.1 423.9 L266.1 424.8 L267.1 425.6 L268.1 426.2 L269.1 426.6 L270.1 426.9 L271.1 427.2 L272.1 427.4 L273.1 427.5 L274.1 427.5 L275.1 427.6 L276.1 427.6 L277.1 427.5 L278.1 427.5 L279.1 427.4 L280.1 427.4 L281.1 427.3 L282.1 427.2 L283.1 427.1 L284.1 427.0 L285.1 426.8 L286.1 426.7 L287.1 426.6 L288.1 426.5 L289.1 426.4 L290.1 426.2 L291.1 426.1 L292.1 425.9 L293.1 425.8 L294.1 425.6 L295.1 425.5" fill="none" stroke="#1c1ce8" stroke-width="2.5"/>
<path d="M76.1 492.4 L77.1 492.2 L78.1 491.9 L79.1 491.6 L80.1 491.2 L81.1 490.6 L82.1 490.0 L83.1 489.2 L84.1 488.2 L85.1 486.9 L86.1 485.4 L87.1 483.6 L88.1 481.5 L89.1 479.1 L90.1 476.5 L91.1 473.5 L92.1 470.3 L93.1 466.8 L94.1 463.0 L95.1 459.1 L96.1 455.0 L97.1 450.8 L98.1 446.4 L99.1 442.2 L100.1 438.0 L101.1 434.2 L102.1 430.7 L103.1 427.8 L104.1 425.4 L105.1 423.7 L106.1 422.6 L107.1 422.2 L108.1 422.4 L109.1 423.2 L110.1 424.6 L111.1 426.5 L112.1 428.8 L113.1 431.5 L114.1 434.4 L115.1 437.6 L116.1 440.8 L117.1 444.0 L118.1 447.2 L119.1 450.3 L120.1 453.1 L121.1 455.8 L122.1 458.2 L123.1 460.3 L124.1 462.2 L125.1 463.8 L126.1 465.2 L127.1 466.3 L128.1 467.3 L129.1 468.0 L130.1 468.6 L131.1 469.1 L132.1 469.5 L133.1 469.7 L134.1 469.9 L135.1 470.0 L136.1 470.1 L137.1 470.1 L137.1 470.4 L136.1 470.4 L135.1 470.5 L134.1 470.6 L133.1 470.7 L132.1 470.8 L131.1 470.8 L130.1 470.9 L129.1 471.0 L128.1 471.1 L127.1 471.2 L126.1 471.3 L125.1 471.4 L124.1 471.5 L123.1 471.7 L122.1 471.8 L121.1 472.0 L120.1 472.1 L119.1 472.3 L118.1 472.5 L117.1 472.8 L116.1 473.0 L115.1 473.3 L114.1 473.6 L113.1 473.9 L112.1 474.2 L111.1 474.6 L110.1 474.9 L109.1 475.3 L108.1 475.7 L107.1 476.1 L106.1 476.6 L105.1 477.0 L104.1 477.5 L103.1 478.1 L102.1 478.8 L101.1 479.6 L100.1 480.4 L99.1 481.3 L98.1 482.1 L97.1 483.0 L96.1 483.7 L95.1 484.4 L94.1 485.1 L93.1 485.8 L92.1 486.5 L91.1 487.1 L90.1 487.8 L89.1 488.5 L88.1 489.1 L87.1 489.7 L86.1 490.2 L85.1 490.7 L84.1 491.2 L83.1 491.5 L82.1 491.8 L81.1 491.9 L80.1 492.1 L79.1 492.3 L78.1 492.4 L77.1 492.6 L76.1 492.7 Z" fill="url(#gc)" fill-opacity="0.85"/>
<path d="M76.1 492.4 L77.1 492.2 L78.1 491.9 L79.1 491.6 L80.1 491.2 L81.1 490.6 L82.1 490.0 L83.1 489.2 L84.1 488.2 L85.1 486.9 L86.1 485.4 L87.1 483.6 L88.1 481.5 L89.1 479.1 L90.1 476.5 L91.1 473.5 L92.1 470.3 L93.1 466.8 L94.1 463.0 L95.1 459.1 L96.1 455.0 L97.1 450.8 L98.1 446.4 L99.1 442.2 L100.1 438.0 L101.1 434.2 L102.1 430.7 L103.1 427.8 L104.1 425.4 L105.1 423.7 L106.1 422.6 L107.1 422.2 L108.1 422.4 L109.1 423.2 L110.1 424.6 L111.1 426.5 L112.1 428.8 L113.1 431.5 L114.1 434.4 L115.1 437.6 L116.1 440.8 L117.1 444.0 L118.1 447.2 L119.1 450.3 L120.1 453.1 L121.1 455.8 L122.1 458.2 L123.1 460.3 L124.1 462.2 L125.1 463.8 L126.1 465.2 L127.1 466.3 L128.1 467.3 L129.1 468.0 L130.1 468.6 L131.1 469.1 L132.1 469.5 L133.1 469.7 L134.1 469.9 L135.1 470.0 L136.1 470.1 L137.1 470.1" fill="none" stroke="#22dde0" stroke-width="2.5"/>
<path d="M229.1 455.3 L230.1 454.7 L231.1 454.0 L232.1 453.2 L233.1 452.3 L234.1 451.3 L235.1 450.3 L236.1 449.1 L237.1 447.9 L238.1 446.6 L239.1 445.3 L240.1 443.9 L241.1 442.4 L242.1 441.0 L243.1 439.5 L244.1 438.0 L245.1 436.5 L246.1 435.0 L247.1 433.5 L248.1 431.9 L249.1 430.4 L250.1 428.9 L251.1 427.3 L252.1 425.7 L253.1 424.2 L254.1 422.7 L255.1 421.3 L256.1 420.1 L257.1 419.1 L258.1 418.3 L259.1 417.8 L260.1 417.5 L261.1 417.3 L262.1 417.2 L263.1 417.3 L264.1 417.5 L265.1 417.8 L266.1 418.1 L267.1 418.6 L268.1 419.1 L269.1 419.7 L270.1 420.2 L271.1 420.9 L272.1 421.5 L273.1 422.1 L274.1 422.7 L275.1 423.2 L276.1 423.8 L277.1 424.2 L278.1 424.7 L279.1 425.1 L280.1 425.4 L281.1 425.7 L282.1 425.9 L283.1 426.1 L284.1 426.2 L285.1 426.3 L286.1 426.3 L287.1 426.4 L288.1 426.3 L289.1 426.3 L290.1 426.3 L291.1 426.2 L291.1 426.4 L290.1 426.6 L289.1 426.7 L288.1 426.9 L287.1 427.0 L286.1 427.2 L285.1 427.3 L284.1 427.4 L283.1 427.6 L282.1 427.7 L281.1 427.9 L280.1 428.0 L279.1 428.1 L278.1 428.2 L277.1 428.3 L276.1 428.4 L275.1 428.5 L274.1 428.6 L273.1 428.8 L272.1 428.9 L271.1 429.0 L270.1 429.1 L269.1 429.3 L268.1 429.4 L267.1 429.6 L266.1 429.7 L265.1 429.9 L264.1 430.1 L263.1 430.3 L262.1 430.5 L261.1 430.7 L260.1 431.0 L259.1 431.3 L258.1 431.6 L257.1 432.1 L256.1 432.8 L255.1 433.5 L254.1 434.4 L253.1 435.3 L252.1 436.2 L251.1 437.1 L250.1 437.9 L249.1 438.7 L248.1 439.5 L247.1 440.3 L246.1 441.1 L245.1 441.9 L244.1 442.8 L243.1 443.7 L242.1 444.6 L241.1 445.5 L240.1 446.5 L239.1 447.5 L238.1 448.5 L237.1 449.5 L236.1 450.4 L235.1 451.3 L234.1 452.2 L233.1 453.0 L232.1 453.8 L231.1 454.5 L230.1 455.0 L229.1 455.5 Z" fill="url(#gc)" fill-opacity="0.85"/>
<path d="M229.1 455.3 L230.1 454.7 L231.1 454.0 L232.1 453.2 L233.1 452.3 L234.1 451.3 L235.1 450.3 L236.1 449.1 L237.1 447.9 L238.1 446.6 L239.1 445.3 L240.1 443.9 L241.1 442.4 L242.1 441.0 L243.1 439.5 L244.1 438.0 L245.1 436.5 L246.1 435.0 L247.1 433.5 L248.1 431.9 L249.1 430.4 L250.1 428.9 L251.1 427.3 L252.1 425.7 L253.1 424.2 L254.1 422.7 L255.1 421.3 L256.1 420.1 L257.1 419.1 L258.1 418.3 L259.1 417.8 L260.1 417.5 L261.1 417.3 L262.1 417.2 L263.1 417.3 L264.1 417.5 L265.1 417.8 L266.1 418.1 L267.1 418.6 L268.1 419.1 L269.1 419.7 L270.1 420.2 L271.1 420.9 L272.1 421.5 L273.1 422.1 L274.1 422.7 L275.1 423.2 L276.1 423.8 L277.1 424.2 L278.1 424.7 L279.1 425.1 L280.1 425.4 L281.1 425.7 L282.1 425.9 L283.1 426.1 L284.1 426.2 L285.1 426.3 L286.1 426.3 L287.1 426.4 L288.1 426.3 L289.1 426.3 L290.1 426.3 L291.1 426.2" fill="none" stroke="#22dde0" stroke-width="2.5"/>
<path d="M126.1 471.0 L127.1 470.8 L128.1 470.5 L129.1 470.1 L130.1 469.7 L131.1 469.1 L132.1 468.3 L133.1 467.3 L134.1 466.1 L135.1 464.6 L136.1 462.8 L137.1 460.6 L138.1 457.9 L139.1 454.9 L140.1 451.4 L141.1 447.5 L142.1 443.2 L143.1 438.7 L144.1 433.9 L145.1 429.1 L146.1 424.4 L147.1 419.8 L148.1 415.6 L149.1 411.9 L150.1 408.9 L151.1 406.7 L152.1 405.4 L153.1 405.0 L154.1 405.5 L155.1 407.0 L156.1 409.2 L157.1 412.1 L158.1 415.7 L159.1 419.6 L160.1 423.8 L161.1 428.1 L162.1 432.3 L163.1 436.4 L164.1 440.3 L165.1 443.8 L166.1 447.0 L167.1 449.7 L168.1 452.0 L169.1 453.9 L170.1 455.5 L171.1 456.7 L172.1 457.6 L173.1 458.3 L174.1 458.8 L175.1 459.1 L176.1 459.3 L177.1 459.5 L178.1 459.5 L179.1 459.5 L179.1 459.8 L178.1 459.9 L177.1 460.1 L176.1 460.2 L175.1 460.4 L174.1 460.6 L173.1 460.8 L172.1 461.0 L171.1 461.2 L170.1 461.4 L169.1 461.6 L168.1 461.8 L167.1 462.0 L166.1 462.3 L165.1 462.5 L164.1 462.7 L163.1 463.0 L162.1 463.3 L161.1 463.6 L160.1 464.0 L159.1 464.4 L158.1 464.8 L157.1 465.2 L156.1 465.6 L155.1 466.0 L154.1 466.5 L153.1 466.9 L152.1 467.3 L151.1 467.7 L150.1 468.0 L149.1 468.4 L148.1 468.7 L147.1 469.0 L146.1 469.2 L145.1 469.4 L144.1 469.5 L143.1 469.7 L142.1 469.8 L141.1 470.0 L140.1 470.1 L139.1 470.2 L138.1 470.3 L137.1 470.4 L136.1 470.4 L135.1 470.5 L134.1 470.6 L133.1 470.7 L132.1 470.8 L131.1 470.8 L130.1 470.9 L129.1 471.0 L128.1 471.1 L127.1 471.2 L126.1 471.3 Z" fill="url(#gy)" fill-opacity="0.85"/>
<path d="M126.1 471.0 L127.1 470.8 L128.1 470.5 L129.1 470.1 L130.1 469.7 L131.1 469.1 L132.1 468.3 L133.1 467.3 L134.1 466.1 L135.1 464.6 L136.1 462.8 L137.1 460.6 L138.1 457.9 L139.1 454.9 L140.1 451.4 L141.1 447.5 L142.1 443.2 L143.1 438.7 L144.1 433.9 L145.1 429.1 L146.1 424.4 L147.1 419.8 L148.1 415.6 L149.1 411.9 L150.1 408.9 L151.1 406.7 L152.1 405.4 L153.1 405.0 L154.1 405.5 L155.1 407.0 L156.1 409.2 L157.1 412.1 L158.1 415.7 L159.1 419.6 L160.1 423.8 L161.1 428.1 L162.1 432.3 L163.1 436.4 L164.1 440.3 L165.1 443.8 L166.1 447.0 L167.1 449.7 L168.1 452.0 L169.1 453.9 L170.1 455.5 L171.1 456.7 L172.1 457.6 L173.1 458.3 L174.1 458.8 L175.1 459.1 L176.1 459.3 L177.1 459.5 L178.1 459.5 L179.1 459.5" fill="none" stroke="#2fbd2f" stroke-width="2.5"/>
<path d="M150.1 467.8 L151.1 467.2 L152.1 466.6 L153.1 465.8 L154.1 464.8 L155.1 463.6 L156.1 462.0 L157.1 460.1 L158.1 457.8 L159.1 455.0 L160.1 451.7 L161.1 447.9 L162.1 443.6 L163.1 439.0 L164.1 434.2 L165.1 429.4 L166.1 424.9 L167.1 420.8 L168.1 417.4 L169.1 414.9 L170.1 413.5 L171.1 413.3 L172.1 414.3 L173.1 416.3 L174.1 419.3 L175.1 423.0 L176.1 427.2 L177.1 431.5 L178.1 435.9 L179.1 440.1 L180.1 443.9 L181.1 447.3 L182.1 450.1 L183.1 452.5 L184.1 454.4 L185.1 455.8 L186.1 456.9 L187.1 457.7 L188.1 458.2 L189.1 458.6 L190.1 458.9 L191.1 459.0 L191.1 459.3 L190.1 459.3 L189.1 459.3 L188.1 459.3 L187.1 459.4 L186.1 459.4 L185.1 459.4 L184.1 459.5 L183.1 459.5 L182.1 459.5 L181.1 459.6 L180.1 459.7 L179.1 459.8 L178.1 459.9 L177.1 460.1 L176.1 460.2 L175.1 460.4 L174.1 460.6 L173.1 460.8 L172.1 461.0 L171.1 461.2 L170.1 461.4 L169.1 461.6 L168.1 461.8 L167.1 462.0 L166.1 462.3 L165.1 462.5 L164.1 462.7 L163.1 463.0 L162.1 463.3 L161.1 463.6 L160.1 464.0 L159.1 464.4 L158.1 464.8 L157.1 465.2 L156.1 465.6 L155.1 466.0 L154.1 466.5 L153.1 466.9 L152.1 467.3 L151.1 467.7 L150.1 468.0 Z" fill="#a64ae6"/>
<path d="M150.1 467.8 L151.1 467.2 L152.1 466.6 L153.1 465.8 L154.1 464.8 L155.1 463.6 L156.1 462.0 L157.1 460.1 L158.1 457.8 L159.1 455.0 L160.1 451.7 L161.1 447.9 L162.1 443.6 L163.1 439.0 L164.1 434.2 L165.1 429.4 L166.1 424.9 L167.1 420.8 L168.1 417.4 L169.1 414.9 L170.1 413.5 L171.1 413.3 L172.1 414.3 L173.1 416.3 L174.1 419.3 L175.1 423.0 L176.1 427.2 L177.1 431.5 L178.1 435.9 L179.1 440.1 L180.1 443.9 L181.1 447.3 L182.1 450.1 L183.1 452.5 L184.1 454.4 L185.1 455.8 L186.1 456.9 L187.1 457.7 L188.1 458.2 L189.1 458.6 L190.1 458.9 L191.1 459.0" fill="none" stroke="#9020d8" stroke-width="2.5"/>
<path d="M80.1 492.1 L81.1 491.9 L82.1 491.8 L83.1 491.5 L84.1 491.2 L85.1 490.7 L86.1 490.2 L87.1 489.7 L88.1 489.1 L89.1 488.5 L90.1 487.8 L91.1 487.1 L92.1 486.5 L93.1 485.8 L94.1 485.1 L95.1 484.4 L96.1 483.7 L97.1 483.0 L98.1 482.1 L99.1 481.3 L100.1 480.4 L101.1 479.6 L102.1 478.8 L103.1 478.1 L104.1 477.5 L105.1 477.0 L106.1 476.6 L107.1 476.1 L108.1 475.7 L109.1 475.3 L110.1 474.9 L111.1 474.6 L112.1 474.2 L113.1 473.9 L114.1 473.6 L115.1 473.3 L116.1 473.0 L117.1 472.8 L118.1 472.5 L119.1 472.3 L120.1 472.1 L121.1 472.0 L122.1 471.8 L123.1 471.7 L124.1 471.5 L125.1 471.4 L126.1 471.3 L127.1 471.2 L128.1 471.1 L129.1 471.0 L130.1 470.9 L131.1 470.8 L132.1 470.8 L133.1 470.7 L134.1 470.6 L135.1 470.5 L136.1 470.4 L137.1 470.4 L138.1 470.3 L139.1 470.2 L140.1 470.1 L141.1 470.0 L142.1 469.8 L143.1 469.7 L144.1 469.5 L145.1 469.4 L146.1 469.2 L147.1 469.0 L148.1 468.7 L149.1 468.4 L150.1 468.0 L151.1 467.7 L152.1 467.3 L153.1 466.9 L154.1 466.5 L155.1 466.0 L156.1 465.6 L157.1 465.2 L158.1 464.8 L159.1 464.4 L160.1 464.0 L161.1 463.6 L162.1 463.3 L163.1 463.0 L164.1 462.7 L165.1 462.5 L166.1 462.3 L167.1 462.0 L168.1 461.8 L169.1 461.6 L170.1 461.4 L171.1 461.2 L172.1 461.0 L173.1 460.8 L174.1 460.6 L175.1 460.4 L176.1 460.2 L177.1 460.1 L178.1 459.9 L179.1 459.8 L180.1 459.7 L181.1 459.6 L182.1 459.5 L183.1 459.5 L184.1 459.5 L185.1 459.4 L186.1 459.4 L187.1 459.4 L188.1 459.3 L189.1 459.3 L190.1 459.3 L191.1 459.3 L192.1 459.3 L193.1 459.3 L194.1 459.2 L195.1 459.2 L196.1 459.2 L197.1 459.2 L198.1 459.2 L199.1 459.2 L200.1 459.2 L201.1 459.2 L202.1 459.2 L203.1 459.2 L204.1 459.1 L205.1 459.1 L206.1 459.1 L207.1 459.1 L208.1 459.1 L209.1 459.1 L210.1 459.1 L211.1 459.0 L212.1 459.0 L213.1 459.0 L214.1 459.0 L215.1 458.9 L216.1 458.9 L217.1 458.9 L218.1 458.8 L219.1 458.8 L220.1 458.7 L221.1 458.5 L222.1 458.3 L223.1 458.0 L224.1 457.7 L225.1 457.3 L226.1 456.9 L227.1 456.4 L228.1 456.0 L229.1 455.5 L230.1 455.0 L231.1 454.5 L232.1 453.8 L233.1 453.0 L234.1 452.2 L235.1 451.3 L236.1 450.4 L237.1 449.5 L238.1 448.5 L239.1 447.5 L240.1 446.5 L241.1 445.5 L242.1 444.6 L243.1 443.7 L244.1 442.8 L245.1 441.9 L246.1 441.1 L247.1 440.3 L248.1 439.5 L249.1 438.7 L250.1 437.9 L251.1 437.1 L252.1 436.2 L253.1 435.3 L254.1 434.4 L255.1 433.5 L256.1 432.8 L257.1 432.1 L258.1 431.6 L259.1 431.3 L260.1 431.0 L261.1 430.7 L262.1 430.5 L263.1 430.3 L264.1 430.1 L265.1 429.9 L266.1 429.7 L267.1 429.6 L268.1 429.4 L269.1 429.3 L270.1 429.1 L271.1 429.0 L272.1 428.9 L273.1 428.8 L274.1 428.6 L275.1 428.5 L276.1 428.4 L277.1 428.3 L278.1 428.2 L279.1 428.1 L280.1 428.0 L281.1 427.9 L282.1 427.7 L283.1 427.6 L284.1 427.4 L285.1 427.3 L286.1 427.2 L287.1 427.0 L288.1 426.9 L289.1 426.7 L290.1 426.6 L291.1 426.4 L292.1 426.3 L293.1 426.1 L294.1 425.9 L295.1 425.8 L296.1 425.6 L297.1 425.3 L298.1 425.1 L299.1 424.9 L300.1 424.6 L301.1 424.4 L302.1 424.0 L303.1 423.7 L304.1 423.3 L305.1 422.8 L306.1 422.3 L307.1 421.8 L308.1 421.2 L309.1 420.6 L310.1 420.0 L311.1 419.3 L312.1 418.6 L313.1 417.9 L314.1 417.2 L315.1 416.5 L316.1 415.7" fill="none" stroke="#4a0c10" stroke-width="2.4"/>
<path d="M81.1 443.9 L82.1 433.7 L83.1 422.4 L84.1 410.0 L85.1 396.9 L86.1 383.3 L87.1 369.6 L88.1 356.4 L89.1 344.0 L90.1 333.2 L91.1 324.2 L92.1 317.6 L93.1 313.6 L94.1 312.2 L95.1 313.3 L96.1 316.6 L97.1 321.6 L98.1 328.0 L99.1 335.3 L100.1 343.1 L101.1 351.1 L102.1 359.2 L103.1 367.0 L104.1 374.5 L105.1 381.6 L106.1 388.2 L107.1 394.3 L108.1 400.0 L109.1 405.4 L110.1 410.4 L111.1 415.1 L112.1 419.7 L113.1 424.1 L114.1 428.3 L115.1 432.3 L116.1 436.1 L117.1 439.7 L118.1 443.1 L119.1 446.1 L120.1 448.9 L121.1 451.4 L122.1 453.5 L123.1 455.4 L124.1 456.9 L125.1 458.2 L126.1 459.3 L127.1 460.2 L128.1 460.9 L129.1 461.4 L130.1 461.7 L131.1 461.9 L132.1 461.9 L133.1 461.6 L134.1 461.0 L135.1 460.1 L136.1 458.9 L137.1 457.2 L138.1 455.1 L139.1 452.4 L140.1 449.3 L141.1 445.7 L142.1 441.8 L143.1 437.4 L144.1 432.8 L145.1 428.2 L146.1 423.5 L147.1 419.0 L148.1 414.8 L149.1 411.1 L150.1 408.0 L151.1 405.7 L152.1 404.1 L153.1 403.3 L154.1 403.3 L155.1 403.9 L156.1 405.1 L157.1 406.5 L158.1 408.1 L159.1 409.6 L160.1 410.8 L161.1 411.5 L162.1 411.7 L163.1 411.3 L164.1 410.3 L165.1 409.0 L166.1 407.4 L167.1 405.8 L168.1 404.6 L169.1 404.0 L170.1 404.2 L171.1 405.4 L172.1 407.7 L173.1 410.9 L174.1 415.0 L175.1 419.6 L176.1 424.6 L177.1 429.6 L178.1 434.5 L179.1 439.0 L180.1 443.1 L181.1 446.6 L182.1 449.6 L183.1 452.0 L184.1 453.9 L185.1 455.4 L186.1 456.5 L187.1 457.2 L188.1 457.8 L189.1 458.2 L190.1 458.4 L191.1 458.5 L192.1 458.6 L193.1 458.7 L194.1 458.7 L195.1 458.7 L196.1 458.7 L197.1 458.7 L198.1 458.7 L199.1 458.6 L200.1 458.6 L201.1 458.6 L202.1 458.6 L203.1 458.5 L204.1 458.5 L205.1 458.5 L206.1 458.4 L207.1 458.4 L208.1 458.3 L209.1 458.3 L210.1 458.2 L211.1 458.1 L212.1 458.0 L213.1 457.8 L214.1 457.7 L215.1 457.4 L216.1 457.1 L217.1 456.8 L218.1 456.3 L219.1 455.8 L220.1 455.0 L221.1 454.0 L222.1 452.8 L223.1 451.3 L224.1 449.5 L225.1 447.4 L226.1 445.0 L227.1 442.2 L228.1 439.0 L229.1 435.6 L230.1 431.7 L231.1 427.5 L232.1 422.8 L233.1 417.9 L234.1 412.7 L235.1 407.4 L236.1 402.0 L237.1 396.7 L238.1 391.5 L239.1 386.7 L240.1 382.2 L241.1 378.3 L242.1 375.1 L243.1 372.6 L244.1 370.9 L245.1 369.9 L246.1 369.8 L247.1 370.3 L248.1 371.5 L249.1 373.1 L250.1 375.3 L251.1 377.7 L252.1 380.3 L253.1 382.9 L254.1 385.7 L255.1 388.4 L256.1 391.2 L257.1 393.9 L258.1 396.6 L259.1 399.3 L260.1 401.8 L261.1 404.1 L262.1 406.2 L263.1 408.1 L264.1 409.9 L265.1 411.6 L266.1 413.0 L267.1 414.4 L268.1 415.6 L269.1 416.8 L270.1 417.8 L271.1 418.8 L272.1 419.7 L273.1 420.5 L274.1 421.3 L275.1 421.9 L276.1 422.5 L277.1 423.1 L278.1 423.5 L279.1 423.9 L280.1 424.2 L281.1 424.3 L282.1 424.4 L283.1 424.4 L284.1 424.2 L285.1 423.9 L286.1 423.5 L287.1 423.0 L288.1 422.2 L289.1 421.3 L290.1 420.2 L291.1 418.8 L292.1 417.2 L293.1 415.3 L294.1 413.2 L295.1 410.8 L296.1 408.1 L297.1 405.3 L298.1 402.2 L299.1 398.9 L300.1 395.5 L301.1 392.1 L302.1 388.6 L303.1 385.2 L304.1 382.0 L305.1 379.0 L306.1 376.4 L307.1 374.1 L308.1 372.3 L309.1 371.0 L310.1 370.3 L311.1 370.1 L312.1 370.4 L313.1 371.3 L314.1 372.6 L315.1 374.2 L316.1 376.2" fill="none" stroke="#0e0e50" stroke-width="2.3"/>
<rect x="315.6" y="415" width="1.6" height="78.5" fill="#20d0d0"/>
<path d="M59.1 493.6H316.4" stroke="#c890e8" stroke-width="1.4"/>
<path d="M59.1 493.6V287.4H316.4V493.6" fill="none" stroke="#555" stroke-width="1.2"/>
<path d="M55.1 306.7H59.1M55.1 346.6H59.1M55.1 386.5H59.1M55.1 426.2H59.1M55.1 466.0H59.1M56.6 326.7H59.1M56.6 366.6H59.1M56.6 406.4H59.1M56.6 446.1H59.1M56.6 485.8H59.1M66.6 493.6v3.5M142.5 493.6v3.5M218.4 493.6v3.5M294.3 493.6v3.5M104.5 493.6v2.5M180.4 493.6v2.5M256.4 493.6v2.5M85.5 287.4v2.0M111.2 287.4v3.0M136.9 287.4v2.0M162.6 287.4v3.0M188.3 287.4v2.0M214.0 287.4v3.0M239.7 287.4v2.0M265.4 287.4v3.0M291.1 287.4v2.0M316.4 307.5h-2.0M316.4 328.2h-3.0M316.4 349.0h-2.0M316.4 369.8h-3.0M316.4 390.5h-2.0M316.4 411.2h-3.0M316.4 432.0h-2.0M316.4 452.8h-3.0M316.4 473.5h-2.0" stroke="#555" stroke-width="1"/>
<g font-size="12.7" text-anchor="end"><text x="52.8" y="310.9">16000</text><text x="52.8" y="350.8">14000</text><text x="52.8" y="390.7">12000</text><text x="52.8" y="430.4">10000</text><text x="52.8" y="470.2">8000</text></g>
<g font-size="11.8" text-anchor="middle"><text x="66.6" y="511.3">930</text><text x="142.5" y="511.3">940</text><text x="218.4" y="511.3">950</text><text x="294.3" y="511.3">960</text></g>
<text x="187.8" y="526" font-size="13.7" text-anchor="middle">Binding energy (eV)</text>
<text transform="translate(15,382) rotate(-90)" font-size="14" text-anchor="middle">Counts/s</text>
<text x="8.5" y="288.3" font-size="19.8" style="stroke-width:0">(<tspan style="fill:#1e7fd0;stroke:#1e7fd0">c</tspan>)</text>
<text x="76.7" y="303.7" font-size="13.8">2p3/2</text>
<text x="228.6" y="349" font-size="14">2p1/2</text>
<text x="64.5" y="339.4" font-size="12" font-weight="bold" style="fill:#1c1ce8;stroke:#1c1ce8">Cu<tspan font-size="8.5" dy="-6">1+</tspan></text>
<text x="106.8" y="408.8" font-size="12" font-weight="bold" style="fill:#30d8e0;stroke:#30d8e0">Cu<tspan font-size="8.5" dy="-6">2+</tspan></text>
</g>
<g id="pd">
<rect x="348" y="278" width="313.5" height="249.5" fill="#f7f7f7"/>
<rect x="352" y="266" width="36" height="27" fill="#fdfdfd"/>
<path d="M402.2 488.0 L403.2 488.0 L404.2 488.0 L405.2 488.0 L406.2 488.0 L407.2 487.9 L408.2 487.9 L409.2 487.9 L410.2 487.9 L411.2 487.9 L412.2 487.9 L413.2 487.8 L414.2 487.8 L415.2 487.8 L416.2 487.8 L417.2 487.7 L418.2 487.7 L419.2 487.7 L420.2 487.7 L421.2 487.6 L422.2 487.6 L423.2 487.6 L424.2 487.6 L425.2 487.5 L426.2 487.5 L427.2 487.5 L428.2 487.4 L429.2 487.4 L430.2 487.4 L431.2 487.3 L432.2 487.3 L433.2 487.2 L434.2 487.2 L435.2 487.2 L436.2 487.1 L437.2 487.1 L438.2 487.1 L439.2 487.0 L440.2 487.0 L441.2 487.0 L442.2 486.9 L443.2 486.9 L444.2 486.8 L445.2 486.8 L446.2 486.7 L447.2 486.7 L448.2 486.6 L449.2 486.6 L450.2 486.5 L451.2 486.5 L452.2 486.4 L453.2 486.4 L454.2 486.3 L455.2 486.3 L456.2 486.2 L457.2 486.1 L458.2 486.1 L459.2 486.0 L460.2 485.9 L461.2 485.9 L462.2 485.8 L463.2 485.7 L464.2 485.6 L465.2 485.6 L466.2 485.5 L467.2 485.4 L468.2 485.3 L469.2 485.2 L470.2 485.1 L471.2 485.0 L472.2 484.9 L473.2 484.7 L474.2 484.6 L475.2 484.4 L476.2 484.3 L477.2 484.1 L478.2 483.9 L479.2 483.8 L480.2 483.6 L481.2 483.4 L482.2 483.2 L483.2 483.1 L484.2 482.9 L485.2 482.7 L486.2 482.6 L487.2 482.4 L488.2 482.3 L489.2 482.1 L490.2 482.0 L491.2 481.8 L492.2 481.7 L493.2 481.5 L494.2 481.4 L495.2 481.3 L496.2 481.1 L497.2 481.0 L498.2 480.9 L499.2 480.8 L500.2 480.7 L501.2 480.6 L502.2 480.5 L503.2 480.4 L504.2 480.3 L505.2 480.3 L506.2 480.2 L507.2 480.1 L508.2 480.0 L509.2 480.0 L510.2 479.9 L511.2 479.8 L512.2 479.8 L513.2 479.7 L514.2 479.7 L515.2 479.6 L516.2 479.5 L517.2 479.5 L518.2 479.4 L519.2 479.4 L520.2 479.3 L521.2 479.3 L522.2 479.2 L523.2 479.2 L524.2 479.1 L525.2 479.1 L526.2 479.0 L527.2 479.0 L528.2 478.9 L529.2 478.9 L530.2 478.8 L531.2 478.8 L532.2 478.7 L533.2 478.7 L534.2 478.6 L535.2 478.6 L536.2 478.6 L537.2 478.5 L538.2 478.5 L539.2 478.4 L540.2 478.4 L541.2 478.3 L542.2 478.3 L543.2 478.3 L544.2 478.2 L545.2 478.2 L546.2 478.1 L547.2 478.1 L548.2 478.1 L549.2 478.0 L550.2 478.0 L551.2 478.0 L552.2 477.9 L553.2 477.9 L554.2 477.8 L555.2 477.8 L556.2 477.8 L557.2 477.7 L558.2 477.7 L559.2 477.7 L560.2 477.6 L561.2 477.6 L562.2 477.6 L563.2 477.5 L564.2 477.5 L565.2 477.5 L566.2 477.4 L567.2 477.4 L568.2 477.4 L569.2 477.3 L570.2 477.3 L571.2 477.3 L572.2 477.2 L573.2 477.2 L574.2 477.2 L575.2 477.1 L576.2 477.1 L577.2 477.1 L578.2 477.1 L579.2 477.0 L580.2 477.0 L581.2 477.0 L582.2 476.9 L583.2 476.9 L584.2 476.9 L585.2 476.8 L586.2 476.8 L587.2 476.8 L588.2 476.8 L589.2 476.7 L590.2 476.7 L591.2 476.7 L592.2 476.6 L593.2 476.6 L594.2 476.6 L595.2 476.5 L596.2 476.5 L597.2 476.5 L598.2 476.5 L599.2 476.4 L600.2 476.4 L601.2 476.4 L602.2 476.3 L603.2 476.3 L604.2 476.3 L605.2 476.2 L606.2 476.2 L607.2 476.2 L608.2 476.2 L609.2 476.1 L610.2 476.1 L611.2 476.1 L612.2 476.0 L613.2 476.0 L614.2 476.0 L615.2 475.9 L616.2 475.9 L617.2 475.9 L618.2 475.9 L619.2 475.8 L620.2 475.8 L621.2 475.8 L622.2 475.7 L623.2 475.7 L624.2 475.7 L625.2 475.7 L626.2 475.6 L627.2 475.6 L628.2 475.6 L629.2 475.6 L630.2 475.5 L631.2 475.5 L632.2 475.5 L633.2 475.4 L634.2 475.4 L635.2 475.4 L636.2 475.4 L637.2 475.3 L638.2 475.3 L639.2 475.3 L640.2 475.2 L641.2 475.2 L642.2 475.2 L643.2 475.2 L644.2 475.1 L645.2 475.1 L646.2 475.1 L647.2 475.1 L648.2 475.0 L649.2 475.0 L650.2 475.0 L651.2 475.0 L652.2 474.9 L653.2 474.9" fill="none" stroke="#4a0c10" stroke-width="2"/>
<path d="M416.2 487.4 L417.2 487.2 L418.2 487.1 L419.2 487.0 L420.2 486.8 L421.2 486.6 L422.2 486.3 L423.2 486.0 L424.2 485.7 L425.2 485.3 L426.2 484.8 L427.2 484.3 L428.2 483.7 L429.2 483.0 L430.2 482.3 L431.2 481.4 L432.2 480.4 L433.2 479.2 L434.2 478.0 L435.2 476.5 L436.2 474.9 L437.2 473.1 L438.2 471.2 L439.2 469.0 L440.2 466.6 L441.2 464.0 L442.2 461.1 L443.2 458.0 L444.2 454.6 L445.2 450.9 L446.2 447.0 L447.2 442.9 L448.2 438.4 L449.2 433.8 L450.2 428.8 L451.2 423.7 L452.2 418.3 L453.2 412.7 L454.2 406.9 L455.2 401.0 L456.2 395.0 L457.2 388.9 L458.2 382.7 L459.2 376.6 L460.2 370.5 L461.2 364.5 L462.2 358.6 L463.2 352.9 L464.2 347.4 L465.2 342.2 L466.2 337.3 L467.2 332.8 L468.2 328.7 L469.2 325.0 L470.2 321.8 L471.2 319.1 L472.2 317.0 L473.2 315.4 L474.2 314.4 L475.2 313.9 L476.2 314.1 L477.2 314.8 L478.2 316.1 L479.2 317.9 L480.2 320.3 L481.2 323.2 L482.2 326.6 L483.2 330.5 L484.2 334.7 L485.2 339.4 L486.2 344.3 L487.2 349.6 L488.2 355.0 L489.2 360.7 L490.2 366.5 L491.2 372.4 L492.2 378.4 L493.2 384.3 L494.2 390.2 L495.2 396.0 L496.2 401.7 L497.2 407.3 L498.2 412.7 L499.2 417.9 L500.2 422.9 L501.2 427.7 L502.2 432.3 L503.2 436.6 L504.2 440.6 L505.2 444.4 L506.2 447.9 L507.2 451.2 L508.2 454.2 L509.2 457.0 L510.2 459.5 L511.2 461.8 L512.2 463.9 L513.2 465.8 L514.2 467.4 L515.2 468.9 L516.2 470.3 L517.2 471.5 L518.2 472.5 L519.2 473.4 L520.2 474.2 L521.2 474.9 L522.2 475.5 L523.2 476.0 L524.2 476.4 L525.2 476.8 L526.2 477.1 L527.2 477.4 L528.2 477.6 L529.2 477.8 L530.2 477.9 L531.2 478.0 L532.2 478.1 L533.2 478.2 L534.2 478.2" fill="none" stroke="#1e6e1e" stroke-width="2.1"/>
<path d="M460.2 485.5 L461.2 485.3 L462.2 485.2 L463.2 485.0 L464.2 484.8 L465.2 484.6 L466.2 484.3 L467.2 484.1 L468.2 483.8 L469.2 483.4 L470.2 483.1 L471.2 482.6 L472.2 482.2 L473.2 481.6 L474.2 481.1 L475.2 480.5 L476.2 479.8 L477.2 479.0 L478.2 478.2 L479.2 477.3 L480.2 476.4 L481.2 475.4 L482.2 474.3 L483.2 473.1 L484.2 471.9 L485.2 470.5 L486.2 469.1 L487.2 467.6 L488.2 466.0 L489.2 464.4 L490.2 462.7 L491.2 460.8 L492.2 458.9 L493.2 456.9 L494.2 454.9 L495.2 452.7 L496.2 450.5 L497.2 448.3 L498.2 446.0 L499.2 443.7 L500.2 441.3 L501.2 438.9 L502.2 436.6 L503.2 434.2 L504.2 431.9 L505.2 429.6 L506.2 427.3 L507.2 425.1 L508.2 422.9 L509.2 420.9 L510.2 418.9 L511.2 417.1 L512.2 415.3 L513.2 413.8 L514.2 412.3 L515.2 411.1 L516.2 410.0 L517.2 409.0 L518.2 408.3 L519.2 407.8 L520.2 407.4 L521.2 407.3 L522.2 407.3 L523.2 407.6 L524.2 408.0 L525.2 408.6 L526.2 409.4 L527.2 410.4 L528.2 411.6 L529.2 412.9 L530.2 414.4 L531.2 416.0 L532.2 417.7 L533.2 419.6 L534.2 421.5 L535.2 423.6 L536.2 425.7 L537.2 427.8 L538.2 430.0 L539.2 432.2 L540.2 434.5 L541.2 436.7 L542.2 438.9 L543.2 441.2 L544.2 443.3 L545.2 445.5 L546.2 447.5 L547.2 449.6 L548.2 451.5 L549.2 453.4 L550.2 455.2 L551.2 457.0 L552.2 458.6 L553.2 460.2 L554.2 461.6 L555.2 463.0 L556.2 464.3 L557.2 465.5 L558.2 466.7 L559.2 467.7 L560.2 468.7 L561.2 469.5 L562.2 470.4 L563.2 471.1 L564.2 471.8 L565.2 472.4 L566.2 472.9 L567.2 473.4 L568.2 473.9 L569.2 474.3 L570.2 474.6 L571.2 474.9 L572.2 475.2 L573.2 475.4 L574.2 475.6 L575.2 475.8 L576.2 476.0 L577.2 476.1 L578.2 476.2 L579.2 476.3 L580.2 476.4 L581.2 476.4 L582.2 476.5" fill="none" stroke="#28e028" stroke-width="2.1"/>
<path d="M493.2 481.1 L494.2 480.9 L495.2 480.7 L496.2 480.4 L497.2 480.2 L498.2 479.9 L499.2 479.7 L500.2 479.4 L501.2 479.1 L502.2 478.8 L503.2 478.5 L504.2 478.2 L505.2 477.8 L506.2 477.4 L507.2 476.9 L508.2 476.5 L509.2 476.0 L510.2 475.4 L511.2 474.8 L512.2 474.2 L513.2 473.5 L514.2 472.8 L515.2 472.0 L516.2 471.2 L517.2 470.4 L518.2 469.4 L519.2 468.5 L520.2 467.5 L521.2 466.4 L522.2 465.3 L523.2 464.2 L524.2 463.0 L525.2 461.8 L526.2 460.6 L527.2 459.3 L528.2 458.0 L529.2 456.7 L530.2 455.4 L531.2 454.1 L532.2 452.8 L533.2 451.6 L534.2 450.3 L535.2 449.1 L536.2 447.9 L537.2 446.7 L538.2 445.6 L539.2 444.6 L540.2 443.7 L541.2 442.8 L542.2 442.0 L543.2 441.3 L544.2 440.7 L545.2 440.2 L546.2 439.8 L547.2 439.5 L548.2 439.3 L549.2 439.2 L550.2 439.3 L551.2 439.4 L552.2 439.7 L553.2 440.0 L554.2 440.5 L555.2 441.1 L556.2 441.7 L557.2 442.5 L558.2 443.3 L559.2 444.2 L560.2 445.2 L561.2 446.2 L562.2 447.3 L563.2 448.5 L564.2 449.6 L565.2 450.8 L566.2 452.0 L567.2 453.3 L568.2 454.5 L569.2 455.7 L570.2 456.9 L571.2 458.1 L572.2 459.3 L573.2 460.4 L574.2 461.5 L575.2 462.6 L576.2 463.7 L577.2 464.7 L578.2 465.6 L579.2 466.5 L580.2 467.4 L581.2 468.2 L582.2 468.9 L583.2 469.6 L584.2 470.3 L585.2 470.9 L586.2 471.5 L587.2 472.0 L588.2 472.5 L589.2 472.9 L590.2 473.3 L591.2 473.6 L592.2 474.0 L593.2 474.2 L594.2 474.5 L595.2 474.7 L596.2 474.9 L597.2 475.1 L598.2 475.2 L599.2 475.4 L600.2 475.5 L601.2 475.6 L602.2 475.7 L603.2 475.7 L604.2 475.8" fill="none" stroke="#1a1aa0" stroke-width="2.1"/>
<path d="M508.2 479.6 L509.2 479.4 L510.2 479.3 L511.2 479.2 L512.2 479.1 L513.2 478.9 L514.2 478.8 L515.2 478.7 L516.2 478.5 L517.2 478.4 L518.2 478.2 L519.2 478.0 L520.2 477.9 L521.2 477.7 L522.2 477.5 L523.2 477.4 L524.2 477.2 L525.2 477.0 L526.2 476.8 L527.2 476.5 L528.2 476.3 L529.2 476.1 L530.2 475.9 L531.2 475.6 L532.2 475.4 L533.2 475.1 L534.2 474.8 L535.2 474.5 L536.2 474.3 L537.2 474.0 L538.2 473.7 L539.2 473.4 L540.2 473.0 L541.2 472.7 L542.2 472.4 L543.2 472.1 L544.2 471.7 L545.2 471.4 L546.2 471.0 L547.2 470.7 L548.2 470.3 L549.2 470.0 L550.2 469.6 L551.2 469.3 L552.2 468.9 L553.2 468.6 L554.2 468.3 L555.2 467.9 L556.2 467.6 L557.2 467.3 L558.2 467.0 L559.2 466.7 L560.2 466.4 L561.2 466.1 L562.2 465.8 L563.2 465.5 L564.2 465.3 L565.2 465.1 L566.2 464.8 L567.2 464.6 L568.2 464.4 L569.2 464.3 L570.2 464.1 L571.2 464.0 L572.2 463.9 L573.2 463.8 L574.2 463.7 L575.2 463.7 L576.2 463.6 L577.2 463.6 L578.2 463.6 L579.2 463.6 L580.2 463.7 L581.2 463.7 L582.2 463.8 L583.2 463.9 L584.2 464.0 L585.2 464.1 L586.2 464.3 L587.2 464.5 L588.2 464.6 L589.2 464.8 L590.2 465.0 L591.2 465.2 L592.2 465.5 L593.2 465.7 L594.2 465.9 L595.2 466.2 L596.2 466.5 L597.2 466.7 L598.2 467.0 L599.2 467.3 L600.2 467.5 L601.2 467.8 L602.2 468.1 L603.2 468.4 L604.2 468.7 L605.2 468.9 L606.2 469.2 L607.2 469.5 L608.2 469.8 L609.2 470.0 L610.2 470.3 L611.2 470.5 L612.2 470.8 L613.2 471.0 L614.2 471.3 L615.2 471.5 L616.2 471.7 L617.2 471.9 L618.2 472.1 L619.2 472.3 L620.2 472.5 L621.2 472.7 L622.2 472.9 L623.2 473.0 L624.2 473.2 L625.2 473.3 L626.2 473.4 L627.2 473.6 L628.2 473.7 L629.2 473.8 L630.2 473.9 L631.2 474.0 L632.2 474.1 L633.2 474.2 L634.2 474.2 L635.2 474.3 L636.2 474.4 L637.2 474.4 L638.2 474.5 L639.2 474.5 L640.2 474.6 L641.2 474.6 L642.2 474.6 L643.2 474.7 L644.2 474.7" fill="none" stroke="#30e0f0" stroke-width="2.1"/>
<path d="M402.2 488.9 L403.2 487.8 L404.2 485.7 L405.2 484.8 L406.2 486.1 L407.2 486.9 L408.2 486.9 L409.2 487.6 L410.2 487.3 L411.2 486.1 L412.2 485.7 L413.2 486.6 L414.2 487.7 L415.2 487.2 L416.2 485.4 L417.2 485.5 L418.2 487.5 L419.2 488.2 L420.2 486.6 L421.2 485.9 L422.2 486.3 L423.2 486.0 L424.2 486.4 L425.2 486.8 L426.2 485.6 L427.2 484.5 L428.2 483.6 L429.2 482.2 L430.2 481.0 L431.2 480.0 L432.2 478.8 L433.2 477.1 L434.2 474.9 L435.2 472.4 L436.2 469.7 L437.2 467.2 L438.2 465.6 L439.2 463.8 L440.2 461.8 L441.2 461.1 L442.2 458.8 L443.2 455.4 L444.2 453.1 L445.2 450.8 L446.2 447.0 L447.2 441.9 L448.2 437.7 L449.2 432.6 L450.2 426.2 L451.2 421.5 L452.2 417.9 L453.2 413.4 L454.2 407.7 L455.2 401.4 L456.2 394.8 L457.2 388.8 L458.2 382.5 L459.2 375.2 L460.2 368.9 L461.2 362.7 L462.2 356.4 L463.2 351.3 L464.2 345.3 L465.2 340.6 L466.2 336.4 L467.2 330.0 L468.2 325.5 L469.2 322.3 L470.2 316.4 L471.2 311.5 L472.2 308.4 L473.2 305.1 L474.2 302.2 L475.2 301.6 L476.2 301.8 L477.2 301.8 L478.2 302.4 L479.2 303.9 L480.2 306.0 L481.2 309.9 L482.2 314.6 L483.2 317.6 L484.2 322.5 L485.2 326.8 L486.2 328.4 L487.2 331.4 L488.2 336.4 L489.2 341.0 L490.2 344.4 L491.2 348.2 L492.2 352.3 L493.2 356.8 L494.2 361.0 L495.2 363.5 L496.2 366.7 L497.2 370.6 L498.2 372.9 L499.2 374.6 L500.2 377.6 L501.2 380.1 L502.2 381.3 L503.2 381.3 L504.2 380.9 L505.2 382.5 L506.2 384.6 L507.2 385.0 L508.2 385.8 L509.2 387.8 L510.2 388.1 L511.2 387.1 L512.2 386.0 L513.2 383.1 L514.2 382.3 L515.2 384.0 L516.2 384.3 L517.2 384.0 L518.2 383.6 L519.2 382.9 L520.2 382.6 L521.2 381.3 L522.2 380.0 L523.2 380.6 L524.2 381.9 L525.2 382.0 L526.2 380.6 L527.2 380.3 L528.2 380.8 L529.2 382.0 L530.2 383.7 L531.2 383.5 L532.2 383.1 L533.2 384.4 L534.2 385.3 L535.2 385.3 L536.2 387.0 L537.2 389.7 L538.2 390.7 L539.2 390.6 L540.2 391.3 L541.2 392.1 L542.2 393.5 L543.2 396.3 L544.2 398.3 L545.2 398.7 L546.2 399.1 L547.2 401.2 L548.2 404.0 L549.2 405.7 L550.2 407.0 L551.2 409.4 L552.2 411.3 L553.2 411.8 L554.2 412.8 L555.2 414.1 L556.2 416.3 L557.2 419.6 L558.2 421.9 L559.2 422.6 L560.2 423.0 L561.2 424.6 L562.2 427.1 L563.2 429.1 L564.2 430.8 L565.2 432.5 L566.2 435.5 L567.2 438.6 L568.2 440.5 L569.2 441.2 L570.2 441.7 L571.2 442.7 L572.2 443.9 L573.2 445.2 L574.2 445.9 L575.2 446.4 L576.2 448.0 L577.2 450.2 L578.2 451.5 L579.2 451.7 L580.2 452.0 L581.2 452.9 L582.2 454.3 L583.2 456.4 L584.2 457.3 L585.2 457.5 L586.2 457.5 L587.2 456.9 L588.2 457.7 L589.2 460.4 L590.2 461.8 L591.2 461.0 L592.2 461.1 L593.2 461.7 L594.2 461.0 L595.2 461.4 L596.2 463.2 L597.2 464.4 L598.2 465.6 L599.2 466.8 L600.2 466.8 L601.2 467.5 L602.2 469.3 L603.2 468.8 L604.2 466.8 L605.2 467.5 L606.2 468.6 L607.2 467.6 L608.2 467.0 L609.2 467.1 L610.2 467.3 L611.2 468.3 L612.2 470.4 L613.2 472.3 L614.2 472.6 L615.2 470.7 L616.2 469.4 L617.2 470.3 L618.2 471.4 L619.2 471.9 L620.2 471.2 L621.2 470.7 L622.2 471.0 L623.2 470.5 L624.2 471.2 L625.2 472.9 L626.2 474.1 L627.2 473.6 L628.2 471.9 L629.2 472.8 L630.2 474.0 L631.2 473.8 L632.2 473.5 L633.2 473.3 L634.2 474.1 L635.2 474.1 L636.2 472.9 L637.2 472.8 L638.2 473.2 L639.2 473.8 L640.2 474.8 L641.2 475.3 L642.2 475.9 L643.2 475.8 L644.2 474.7 L645.2 473.6 L646.2 472.9 L647.2 472.7 L648.2 473.3 L649.2 473.8 L650.2 473.6 L651.2 474.0 L652.2 474.2 L653.2 473.9" fill="none" stroke="#dc1414" stroke-width="2.2"/>
<path d="M402.2 488.0 L403.2 488.0 L404.2 488.0 L405.2 487.9 L406.2 487.9 L407.2 487.9 L408.2 487.9 L409.2 487.8 L410.2 487.8 L411.2 487.7 L412.2 487.7 L413.2 487.6 L414.2 487.5 L415.2 487.5 L416.2 487.4 L417.2 487.2 L418.2 487.1 L419.2 487.0 L420.2 486.8 L421.2 486.6 L422.2 486.3 L423.2 486.0 L424.2 485.7 L425.2 485.3 L426.2 484.8 L427.2 484.3 L428.2 483.7 L429.2 483.0 L430.2 482.3 L431.2 481.4 L432.2 480.4 L433.2 479.2 L434.2 478.0 L435.2 476.5 L436.2 474.9 L437.2 473.1 L438.2 471.2 L439.2 469.0 L440.2 466.6 L441.2 463.9 L442.2 461.1 L443.2 457.9 L444.2 454.6 L445.2 450.9 L446.2 447.0 L447.2 442.8 L448.2 438.4 L449.2 433.7 L450.2 428.7 L451.2 423.5 L452.2 418.1 L453.2 412.5 L454.2 406.7 L455.2 400.8 L456.2 394.7 L457.2 388.5 L458.2 382.3 L459.2 376.0 L460.2 369.8 L461.2 363.6 L462.2 357.6 L463.2 351.7 L464.2 346.0 L465.2 340.5 L466.2 335.4 L467.2 330.6 L468.2 326.1 L469.2 322.1 L470.2 318.6 L471.2 315.5 L472.2 312.9 L473.2 310.8 L474.2 309.3 L475.2 308.4 L476.2 307.9 L477.2 308.1 L478.2 308.7 L479.2 309.9 L480.2 311.5 L481.2 313.6 L482.2 316.1 L483.2 319.0 L484.2 322.2 L485.2 325.7 L486.2 329.4 L487.2 333.3 L488.2 337.3 L489.2 341.3 L490.2 345.4 L491.2 349.4 L492.2 353.4 L493.2 357.2 L494.2 360.9 L495.2 364.3 L496.2 367.5 L497.2 370.4 L498.2 373.0 L499.2 375.4 L500.2 377.5 L501.2 379.3 L502.2 380.8 L503.2 382.1 L504.2 383.1 L505.2 384.0 L506.2 384.7 L507.2 385.2 L508.2 385.5 L509.2 385.7 L510.2 385.8 L511.2 385.8 L512.2 385.7 L513.2 385.5 L514.2 385.2 L515.2 384.8 L516.2 384.3 L517.2 383.9 L518.2 383.4 L519.2 382.9 L520.2 382.5 L521.2 382.1 L522.2 381.8 L523.2 381.5 L524.2 381.4 L525.2 381.3 L526.2 381.3 L527.2 381.5 L528.2 381.7 L529.2 382.1 L530.2 382.6 L531.2 383.1 L532.2 383.8 L533.2 384.6 L534.2 385.5 L535.2 386.4 L536.2 387.5 L537.2 388.6 L538.2 389.7 L539.2 391.0 L540.2 392.3 L541.2 393.6 L542.2 395.0 L543.2 396.5 L544.2 398.0 L545.2 399.5 L546.2 401.1 L547.2 402.7 L548.2 404.3 L549.2 405.9 L550.2 407.6 L551.2 409.3 L552.2 411.0 L553.2 412.7 L554.2 414.4 L555.2 416.2 L556.2 417.9 L557.2 419.7 L558.2 421.4 L559.2 423.1 L560.2 424.9 L561.2 426.6 L562.2 428.3 L563.2 430.0 L564.2 431.7 L565.2 433.3 L566.2 434.9 L567.2 436.5 L568.2 438.0 L569.2 439.6 L570.2 441.0 L571.2 442.5 L572.2 443.9 L573.2 445.2 L574.2 446.5 L575.2 447.8 L576.2 449.0 L577.2 450.2 L578.2 451.3 L579.2 452.4 L580.2 453.4 L581.2 454.4 L582.2 455.4 L583.2 456.3 L584.2 457.1 L585.2 457.9 L586.2 458.7 L587.2 459.5 L588.2 460.2 L589.2 460.9 L590.2 461.5 L591.2 462.1 L592.2 462.7 L593.2 463.3 L594.2 463.8 L595.2 464.3 L596.2 464.8 L597.2 465.3 L598.2 465.8 L599.2 466.2 L600.2 466.6 L601.2 467.0 L602.2 467.4 L603.2 467.8 L604.2 468.2 L605.2 468.5 L606.2 468.9 L607.2 469.2 L608.2 469.5 L609.2 469.8 L610.2 470.1 L611.2 470.4 L612.2 470.7 L613.2 470.9 L614.2 471.2 L615.2 471.4 L616.2 471.7 L617.2 471.9 L618.2 472.1 L619.2 472.3 L620.2 472.5 L621.2 472.7 L622.2 472.8 L623.2 473.0 L624.2 473.2 L625.2 473.3 L626.2 473.4 L627.2 473.6 L628.2 473.7 L629.2 473.8 L630.2 473.9 L631.2 474.0 L632.2 474.1 L633.2 474.2 L634.2 474.2 L635.2 474.3 L636.2 474.4 L637.2 474.4 L638.2 474.5 L639.2 474.5 L640.2 474.6 L641.2 474.6 L642.2 474.6 L643.2 474.7 L644.2 474.7 L645.2 474.7 L646.2 474.7 L647.2 474.7 L648.2 474.7 L649.2 474.7 L650.2 474.7 L651.2 474.7 L652.2 474.7 L653.2 474.7" fill="none" stroke="#0e0e50" stroke-width="2.5"/>
<rect x="402.2" y="286.7" width="251.4" height="201.9" fill="none" stroke="#444" stroke-width="1.2"/>
<path d="M398.2 314.8H402.2M398.2 370.1H402.2M398.2 425.4H402.2M398.2 480.7H402.2M399.7 342.4H402.2M399.7 397.7H402.2M399.7 453.0H402.2M486.5 488.6v3.5M625.5 488.6v3.5M417.0 488.6v2.5M556.0 488.6v2.5M427.8 286.7v2.0M452.8 286.7v3.0M477.9 286.7v2.0M502.9 286.7v3.0M527.9 286.7v2.0M553.0 286.7v3.0M578.0 286.7v2.0M603.0 286.7v3.0M628.0 286.7v2.0M653.6 306.5h-2.0M653.6 326.6h-3.0M653.6 346.7h-2.0M653.6 366.8h-3.0M653.6 386.9h-2.0M653.6 407.0h-3.0M653.6 427.1h-2.0M653.6 447.2h-3.0M653.6 467.3h-2.0" stroke="#444" stroke-width="1"/>
<g font-size="12.2" text-anchor="end"><text x="395.5" y="319.0">8000</text><text x="395.5" y="374.3">6000</text><text x="395.5" y="429.6">4000</text><text x="395.5" y="484.9">2000</text></g>
<g font-size="12" text-anchor="middle"><text x="486.5" y="506">530</text><text x="625.5" y="506.3">535</text></g>
<text x="531.7" y="520.5" font-size="13.7" text-anchor="middle">Binding energy (eV)</text>
<text transform="translate(359.4,385.6) rotate(-90)" font-size="13.7" text-anchor="middle">Counts/s</text>
<text x="357.5" y="284.3" font-size="19.8" style="stroke-width:0">(<tspan style="fill:#1e7fd0;stroke:#1e7fd0">d</tspan>)</text>
<text x="444.5" y="322" font-size="12.5">O<tspan font-size="11" dy="-5.5">2-</tspan></text>
<text x="516" y="368.6" font-size="12.5">O<tspan font-size="11" dy="-5.5">2-</tspan></text>
<text x="558.5" y="414.3" font-size="12.5">O<tspan font-size="8" dy="3">2</tspan><tspan font-size="11" dy="-9">2-</tspan></text>
<text x="589.9" y="453.2" font-size="12.5">OH<tspan font-size="8" dy="-5.5">-</tspan></text>
</g>
</svg>
</body></html>
